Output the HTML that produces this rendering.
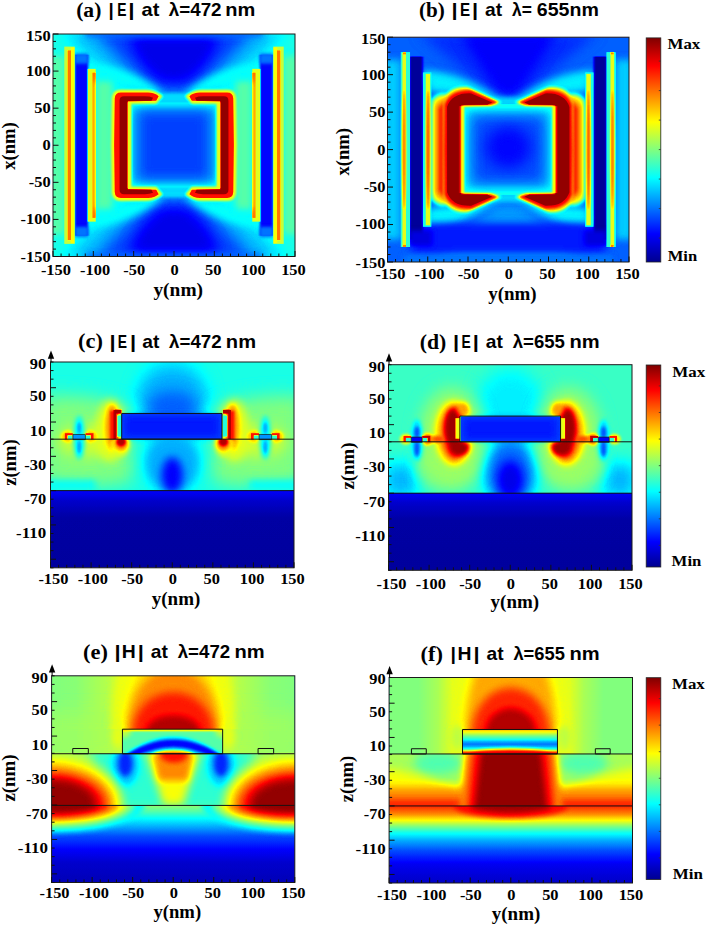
<!DOCTYPE html><html><head><meta charset="utf-8"><style>html,body{margin:0;padding:0;background:#fff;width:707px;height:926px;overflow:hidden}svg{display:block}</style></head><body><svg width="707" height="926" viewBox="0 0 707 926"><defs><filter id="jet" x="0" y="0" width="1" height="1" color-interpolation-filters="sRGB"><feComponentTransfer><feFuncR type="table" tableValues="0 0 0 0 0.5 1 1 1 0.5"/><feFuncG type="table" tableValues="0 0 0.5 1 1 1 0.5 0 0"/><feFuncB type="table" tableValues="0.5625 1 1 1 0.5 0 0 0 0"/><feFuncA type="identity"/></feComponentTransfer></filter><filter id="b0_3" x="-100%" y="-100%" width="300%" height="300%" color-interpolation-filters="sRGB"><feGaussianBlur stdDeviation="0.3"/></filter><filter id="b0_4" x="-100%" y="-100%" width="300%" height="300%" color-interpolation-filters="sRGB"><feGaussianBlur stdDeviation="0.4"/></filter><filter id="b0_5" x="-100%" y="-100%" width="300%" height="300%" color-interpolation-filters="sRGB"><feGaussianBlur stdDeviation="0.5"/></filter><filter id="b0_6" x="-100%" y="-100%" width="300%" height="300%" color-interpolation-filters="sRGB"><feGaussianBlur stdDeviation="0.6"/></filter><filter id="b0_8" x="-100%" y="-100%" width="300%" height="300%" color-interpolation-filters="sRGB"><feGaussianBlur stdDeviation="0.8"/></filter><filter id="b1" x="-100%" y="-100%" width="300%" height="300%" color-interpolation-filters="sRGB"><feGaussianBlur stdDeviation="1"/></filter><filter id="b1_2" x="-100%" y="-100%" width="300%" height="300%" color-interpolation-filters="sRGB"><feGaussianBlur stdDeviation="1.2"/></filter><filter id="b1_5" x="-100%" y="-100%" width="300%" height="300%" color-interpolation-filters="sRGB"><feGaussianBlur stdDeviation="1.5"/></filter><filter id="b2" x="-100%" y="-100%" width="300%" height="300%" color-interpolation-filters="sRGB"><feGaussianBlur stdDeviation="2"/></filter><filter id="b2_5" x="-100%" y="-100%" width="300%" height="300%" color-interpolation-filters="sRGB"><feGaussianBlur stdDeviation="2.5"/></filter><filter id="b3" x="-100%" y="-100%" width="300%" height="300%" color-interpolation-filters="sRGB"><feGaussianBlur stdDeviation="3"/></filter><filter id="b4" x="-100%" y="-100%" width="300%" height="300%" color-interpolation-filters="sRGB"><feGaussianBlur stdDeviation="4"/></filter><filter id="b5" x="-100%" y="-100%" width="300%" height="300%" color-interpolation-filters="sRGB"><feGaussianBlur stdDeviation="5"/></filter><filter id="b6" x="-100%" y="-100%" width="300%" height="300%" color-interpolation-filters="sRGB"><feGaussianBlur stdDeviation="6"/></filter><filter id="b7" x="-100%" y="-100%" width="300%" height="300%" color-interpolation-filters="sRGB"><feGaussianBlur stdDeviation="7"/></filter><filter id="b8" x="-100%" y="-100%" width="300%" height="300%" color-interpolation-filters="sRGB"><feGaussianBlur stdDeviation="8"/></filter><filter id="b9" x="-100%" y="-100%" width="300%" height="300%" color-interpolation-filters="sRGB"><feGaussianBlur stdDeviation="9"/></filter><filter id="b10" x="-100%" y="-100%" width="300%" height="300%" color-interpolation-filters="sRGB"><feGaussianBlur stdDeviation="10"/></filter><linearGradient id="cbar" x1="0" y1="1" x2="0" y2="0"><stop offset="0" stop-color="rgb(0,0,143)"/><stop offset="0.125" stop-color="rgb(0,0,255)"/><stop offset="0.375" stop-color="rgb(0,255,255)"/><stop offset="0.625" stop-color="rgb(255,255,0)"/><stop offset="0.875" stop-color="rgb(255,0,0)"/><stop offset="1" stop-color="rgb(128,0,0)"/></linearGradient><clipPath id="clipa"><rect x="53" y="34" width="242" height="222.5"/></clipPath><clipPath id="clipb"><rect x="387.5" y="37.2" width="241.5" height="224.8"/></clipPath><clipPath id="clipc"><rect x="50.5" y="362" width="243.5" height="205.8"/></clipPath><clipPath id="clipd"><rect x="388.5" y="364.7" width="243.5" height="205.6"/></clipPath><clipPath id="clipe"><rect x="51.6" y="675.8" width="243.2" height="206.7"/></clipPath><clipPath id="clipf"><rect x="389.1" y="677.5" width="243.4" height="205.5"/></clipPath></defs><rect width="707" height="926" fill="#fff"/><g clip-path="url(#clipa)"><g filter="url(#jet)"><rect x="53" y="34" width="242" height="222.5" fill="black"/><g transform="translate(53,34) scale(0.80667,0.74167)"><rect x="0" y="0" width="300" height="300" fill="rgb(102,102,102)"/><rect x="-5" y="30" width="19" height="240" fill="rgb(117,117,117)" filter="url(#b4)"/><g transform="translate(300,0) scale(-1,1)"><rect x="-5" y="30" width="19" height="240" fill="rgb(117,117,117)" filter="url(#b4)"/></g><path d="M10,-5 L290,-5 Q235,55 182,86 L118,86 Q65,55 10,-5 Z" fill="rgb(79,79,79)" filter="url(#b10)"/><path d="M50,-5 L250,-5 Q205,50 170,80 L130,80 Q95,50 50,-5 Z" fill="rgb(48,48,48)" filter="url(#b9)"/><path d="M95,4 L205,4 Q195,42 164,64 L136,64 Q105,42 95,4 Z" fill="rgb(26,26,26)" filter="url(#b8)"/><rect x="40" y="-6" width="220" height="10" fill="rgb(56,56,56)" filter="url(#b4)"/><path d="M50,40 Q95,45 135,78 L128,84 Q95,70 55,66 Z" fill="rgb(97,97,97)" filter="url(#b5)"/><g transform="translate(300,0) scale(-1,1)"><path d="M50,40 Q95,45 135,78 L128,84 Q95,70 55,66 Z" fill="rgb(97,97,97)" filter="url(#b5)"/></g><g transform="translate(0,300) scale(1,-1)"><path d="M10,-5 L290,-5 Q235,55 182,86 L118,86 Q65,55 10,-5 Z" fill="rgb(79,79,79)" filter="url(#b10)"/><path d="M50,-5 L250,-5 Q205,50 170,80 L130,80 Q95,50 50,-5 Z" fill="rgb(48,48,48)" filter="url(#b9)"/><path d="M95,4 L205,4 Q195,42 164,64 L136,64 Q105,42 95,4 Z" fill="rgb(26,26,26)" filter="url(#b8)"/><rect x="40" y="-6" width="220" height="10" fill="rgb(56,56,56)" filter="url(#b4)"/><path d="M50,40 Q95,45 135,78 L128,84 Q95,70 55,66 Z" fill="rgb(97,97,97)" filter="url(#b5)"/><g transform="translate(300,0) scale(-1,1)"><path d="M50,40 Q95,45 135,78 L128,84 Q95,70 55,66 Z" fill="rgb(97,97,97)" filter="url(#b5)"/></g></g><rect x="27" y="28" width="16.5" height="244" fill="rgb(33,33,33)" filter="url(#b1)"/><g transform="translate(300,0) scale(-1,1)"><rect x="27" y="28" width="16.5" height="244" fill="rgb(33,33,33)" filter="url(#b1)"/></g><rect x="27" y="26" width="16.5" height="14" fill="rgb(61,61,61)" filter="url(#b2)"/><g transform="translate(300,0) scale(-1,1)"><rect x="27" y="26" width="16.5" height="14" fill="rgb(61,61,61)" filter="url(#b2)"/></g><rect x="27" y="260" width="16.5" height="14" fill="rgb(61,61,61)" filter="url(#b2)"/><g transform="translate(300,0) scale(-1,1)"><rect x="27" y="260" width="16.5" height="14" fill="rgb(61,61,61)" filter="url(#b2)"/></g><rect x="14" y="17" width="13" height="266" fill="rgb(145,145,145)" filter="url(#b0_6)"/><rect x="22" y="18" width="4.5" height="264" fill="rgb(158,158,158)" filter="url(#b0_4)"/><rect x="18" y="22" width="4.3" height="256" fill="rgb(194,194,194)" filter="url(#b0_3)"/><g transform="translate(300,0) scale(-1,1)"><rect x="14" y="17" width="13" height="266" fill="rgb(145,145,145)" filter="url(#b0_6)"/><rect x="22" y="18" width="4.5" height="264" fill="rgb(158,158,158)" filter="url(#b0_4)"/><rect x="18" y="22" width="4.3" height="256" fill="rgb(194,194,194)" filter="url(#b0_3)"/></g><rect x="43" y="47" width="10" height="206" fill="rgb(153,153,153)" filter="url(#b0_5)"/><rect x="48.8" y="52" width="4.2" height="196" fill="rgb(194,194,194)" filter="url(#b0_3)"/><g transform="translate(300,0) scale(-1,1)"><rect x="43" y="47" width="10" height="206" fill="rgb(153,153,153)" filter="url(#b0_5)"/><rect x="48.8" y="52" width="4.2" height="196" fill="rgb(194,194,194)" filter="url(#b0_3)"/></g><rect x="54" y="64" width="19" height="172" fill="rgb(117,117,117)" filter="url(#b4)"/><g transform="translate(300,0) scale(-1,1)"><rect x="54" y="64" width="19" height="172" fill="rgb(117,117,117)" filter="url(#b4)"/></g><rect x="92" y="92" width="116" height="116" fill="rgb(102,102,102)" filter="url(#b1)"/><rect x="99" y="99" width="102" height="102" fill="rgb(76,76,76)" filter="url(#b4)"/><rect x="106" y="104" width="88" height="92" fill="rgb(48,48,48)" filter="url(#b8)"/><rect x="128" y="80" width="44" height="12" fill="rgb(87,87,87)" filter="url(#b2)"/><g transform="translate(0,300) scale(1,-1)"><rect x="128" y="80" width="44" height="12" fill="rgb(87,87,87)" filter="url(#b2)"/></g><path d="M136,84 Q128,75 116,75 L84,75 Q74,75 73,86 Q71,150 73,214 Q74,225 84,225 L116,225 Q128,225 136,216 L128,206 L97,206 L97,94 L128,94 Z" fill="rgb(158,158,158)" filter="url(#b1_5)"/><path d="M131,84 Q126,79 118,79 L84,79 Q77,79 76.5,87 Q75,150 76.5,213 Q77,221 84,221 L118,221 Q126,221 131,216 L128,210 L93,209 L93,91 L128,90 Z" fill="rgb(219,219,219)" filter="url(#b0_5)"/><path d="M124,86 Q120,84 114,84 L88,84 Q82.5,84 82.5,90 L82.5,210 Q82.5,216 88,216 L114,216 Q120,216 124,214 L122,210 L92.5,209.5 L92.5,90.5 L122,90 Z" fill="rgb(250,250,250)" filter="url(#b0_4)"/><rect x="92.5" y="92" width="3.5" height="116" fill="rgb(153,153,153)" filter="url(#b0_6)"/><g transform="translate(300,0) scale(-1,1)"><path d="M136,84 Q128,75 116,75 L84,75 Q74,75 73,86 Q71,150 73,214 Q74,225 84,225 L116,225 Q128,225 136,216 L128,206 L97,206 L97,94 L128,94 Z" fill="rgb(158,158,158)" filter="url(#b1_5)"/><path d="M131,84 Q126,79 118,79 L84,79 Q77,79 76.5,87 Q75,150 76.5,213 Q77,221 84,221 L118,221 Q126,221 131,216 L128,210 L93,209 L93,91 L128,90 Z" fill="rgb(219,219,219)" filter="url(#b0_5)"/><path d="M124,86 Q120,84 114,84 L88,84 Q82.5,84 82.5,90 L82.5,210 Q82.5,216 88,216 L114,216 Q120,216 124,214 L122,210 L92.5,209.5 L92.5,90.5 L122,90 Z" fill="rgb(250,250,250)" filter="url(#b0_4)"/><rect x="92.5" y="92" width="3.5" height="116" fill="rgb(153,153,153)" filter="url(#b0_6)"/></g></g></g></g><rect x="53" y="34" width="242" height="222.5" fill="none" stroke="#1a1a1a" stroke-width="1"/><line x1="53" y1="256.5" x2="53" y2="251" stroke="#111" stroke-width="1"/><line x1="61.07" y1="256.5" x2="61.07" y2="253.5" stroke="#111" stroke-width="1"/><line x1="69.13" y1="256.5" x2="69.13" y2="253.5" stroke="#111" stroke-width="1"/><line x1="77.2" y1="256.5" x2="77.2" y2="253.5" stroke="#111" stroke-width="1"/><line x1="85.27" y1="256.5" x2="85.27" y2="253.5" stroke="#111" stroke-width="1"/><line x1="93.33" y1="256.5" x2="93.33" y2="251" stroke="#111" stroke-width="1"/><line x1="101.4" y1="256.5" x2="101.4" y2="253.5" stroke="#111" stroke-width="1"/><line x1="109.47" y1="256.5" x2="109.47" y2="253.5" stroke="#111" stroke-width="1"/><line x1="117.53" y1="256.5" x2="117.53" y2="253.5" stroke="#111" stroke-width="1"/><line x1="125.6" y1="256.5" x2="125.6" y2="253.5" stroke="#111" stroke-width="1"/><line x1="133.67" y1="256.5" x2="133.67" y2="251" stroke="#111" stroke-width="1"/><line x1="141.73" y1="256.5" x2="141.73" y2="253.5" stroke="#111" stroke-width="1"/><line x1="149.8" y1="256.5" x2="149.8" y2="253.5" stroke="#111" stroke-width="1"/><line x1="157.87" y1="256.5" x2="157.87" y2="253.5" stroke="#111" stroke-width="1"/><line x1="165.93" y1="256.5" x2="165.93" y2="253.5" stroke="#111" stroke-width="1"/><line x1="174" y1="256.5" x2="174" y2="251" stroke="#111" stroke-width="1"/><line x1="182.07" y1="256.5" x2="182.07" y2="253.5" stroke="#111" stroke-width="1"/><line x1="190.13" y1="256.5" x2="190.13" y2="253.5" stroke="#111" stroke-width="1"/><line x1="198.2" y1="256.5" x2="198.2" y2="253.5" stroke="#111" stroke-width="1"/><line x1="206.27" y1="256.5" x2="206.27" y2="253.5" stroke="#111" stroke-width="1"/><line x1="214.33" y1="256.5" x2="214.33" y2="251" stroke="#111" stroke-width="1"/><line x1="222.4" y1="256.5" x2="222.4" y2="253.5" stroke="#111" stroke-width="1"/><line x1="230.47" y1="256.5" x2="230.47" y2="253.5" stroke="#111" stroke-width="1"/><line x1="238.53" y1="256.5" x2="238.53" y2="253.5" stroke="#111" stroke-width="1"/><line x1="246.6" y1="256.5" x2="246.6" y2="253.5" stroke="#111" stroke-width="1"/><line x1="254.67" y1="256.5" x2="254.67" y2="251" stroke="#111" stroke-width="1"/><line x1="262.73" y1="256.5" x2="262.73" y2="253.5" stroke="#111" stroke-width="1"/><line x1="270.8" y1="256.5" x2="270.8" y2="253.5" stroke="#111" stroke-width="1"/><line x1="278.87" y1="256.5" x2="278.87" y2="253.5" stroke="#111" stroke-width="1"/><line x1="286.93" y1="256.5" x2="286.93" y2="253.5" stroke="#111" stroke-width="1"/><line x1="295" y1="256.5" x2="295" y2="251" stroke="#111" stroke-width="1"/><line x1="53" y1="256.5" x2="58.5" y2="256.5" stroke="#111" stroke-width="1"/><line x1="53" y1="249.08" x2="56" y2="249.08" stroke="#111" stroke-width="1"/><line x1="53" y1="241.67" x2="56" y2="241.67" stroke="#111" stroke-width="1"/><line x1="53" y1="234.25" x2="56" y2="234.25" stroke="#111" stroke-width="1"/><line x1="53" y1="226.83" x2="56" y2="226.83" stroke="#111" stroke-width="1"/><line x1="53" y1="219.42" x2="58.5" y2="219.42" stroke="#111" stroke-width="1"/><line x1="53" y1="212" x2="56" y2="212" stroke="#111" stroke-width="1"/><line x1="53" y1="204.58" x2="56" y2="204.58" stroke="#111" stroke-width="1"/><line x1="53" y1="197.17" x2="56" y2="197.17" stroke="#111" stroke-width="1"/><line x1="53" y1="189.75" x2="56" y2="189.75" stroke="#111" stroke-width="1"/><line x1="53" y1="182.33" x2="58.5" y2="182.33" stroke="#111" stroke-width="1"/><line x1="53" y1="174.92" x2="56" y2="174.92" stroke="#111" stroke-width="1"/><line x1="53" y1="167.5" x2="56" y2="167.5" stroke="#111" stroke-width="1"/><line x1="53" y1="160.08" x2="56" y2="160.08" stroke="#111" stroke-width="1"/><line x1="53" y1="152.67" x2="56" y2="152.67" stroke="#111" stroke-width="1"/><line x1="53" y1="145.25" x2="58.5" y2="145.25" stroke="#111" stroke-width="1"/><line x1="53" y1="137.83" x2="56" y2="137.83" stroke="#111" stroke-width="1"/><line x1="53" y1="130.42" x2="56" y2="130.42" stroke="#111" stroke-width="1"/><line x1="53" y1="123" x2="56" y2="123" stroke="#111" stroke-width="1"/><line x1="53" y1="115.58" x2="56" y2="115.58" stroke="#111" stroke-width="1"/><line x1="53" y1="108.17" x2="58.5" y2="108.17" stroke="#111" stroke-width="1"/><line x1="53" y1="100.75" x2="56" y2="100.75" stroke="#111" stroke-width="1"/><line x1="53" y1="93.33" x2="56" y2="93.33" stroke="#111" stroke-width="1"/><line x1="53" y1="85.92" x2="56" y2="85.92" stroke="#111" stroke-width="1"/><line x1="53" y1="78.5" x2="56" y2="78.5" stroke="#111" stroke-width="1"/><line x1="53" y1="71.08" x2="58.5" y2="71.08" stroke="#111" stroke-width="1"/><line x1="53" y1="63.67" x2="56" y2="63.67" stroke="#111" stroke-width="1"/><line x1="53" y1="56.25" x2="56" y2="56.25" stroke="#111" stroke-width="1"/><line x1="53" y1="48.83" x2="56" y2="48.83" stroke="#111" stroke-width="1"/><line x1="53" y1="41.42" x2="56" y2="41.42" stroke="#111" stroke-width="1"/><line x1="53" y1="34" x2="58.5" y2="34" stroke="#111" stroke-width="1"/><g clip-path="url(#clipb)"><g filter="url(#jet)"><rect x="387.5" y="37.2" width="241.5" height="224.8" fill="black"/><g transform="translate(387.5,37.2) scale(0.80500,0.74933)"><rect x="0" y="0" width="300" height="300" fill="rgb(56,56,56)"/><rect x="-5" y="30" width="22" height="240" fill="rgb(84,84,84)" filter="url(#b5)"/><g transform="translate(300,0) scale(-1,1)"><rect x="-5" y="30" width="22" height="240" fill="rgb(84,84,84)" filter="url(#b5)"/></g><path d="M40,-5 L260,-5 L175,70 L125,70 Z" fill="rgb(43,43,43)" filter="url(#b8)"/><path d="M90,-5 L210,-5 L160,78 L140,78 Z" fill="rgb(31,31,31)" filter="url(#b7)"/><path d="M42,44 Q95,46 140,84 L132,90 Q95,74 52,72 Z" fill="rgb(92,92,92)" filter="url(#b5)"/><g transform="translate(300,0) scale(-1,1)"><path d="M42,44 Q95,46 140,84 L132,90 Q95,74 52,72 Z" fill="rgb(92,92,92)" filter="url(#b5)"/></g><path d="M42,256 Q95,254 140,216 L132,210 Q95,226 52,228 Z" fill="rgb(94,94,94)" filter="url(#b5)"/><g transform="translate(300,0) scale(-1,1)"><path d="M42,256 Q95,254 140,216 L132,210 Q95,226 52,228 Z" fill="rgb(94,94,94)" filter="url(#b5)"/></g><path d="M60,300 L240,300 L165,222 L135,222 Z" fill="rgb(71,71,71)" filter="url(#b8)"/><rect x="30" y="248" width="240" height="40" fill="rgb(38,38,38)" filter="url(#b5)"/><rect x="20" y="290" width="260" height="15" fill="rgb(61,61,61)" filter="url(#b3)"/><rect x="28" y="26" width="15.5" height="244" fill="rgb(3,3,3)" filter="url(#b1)"/><g transform="translate(300,0) scale(-1,1)"><rect x="28" y="26" width="15.5" height="244" fill="rgb(3,3,3)" filter="url(#b1)"/></g><rect x="27" y="258" width="28" height="20" fill="rgb(23,23,23)" filter="url(#b3)"/><g transform="translate(300,0) scale(-1,1)"><rect x="27" y="258" width="28" height="20" fill="rgb(23,23,23)" filter="url(#b3)"/></g><rect x="16.5" y="20" width="11.5" height="260" fill="rgb(107,107,107)" filter="url(#b0_8)"/><rect x="18.5" y="21" width="4.5" height="258" fill="rgb(153,153,153)" filter="url(#b0_5)"/><ellipse cx="20.5" cy="150" rx="2.2" ry="80" fill="rgb(194,194,194)" filter="url(#b1)"/><rect x="19" y="20" width="4" height="3" fill="rgb(191,191,191)"/><rect x="19" y="277" width="4" height="3" fill="rgb(191,191,191)"/><g transform="translate(300,0) scale(-1,1)"><rect x="16.5" y="20" width="11.5" height="260" fill="rgb(107,107,107)" filter="url(#b0_8)"/><rect x="18.5" y="21" width="4.5" height="258" fill="rgb(153,153,153)" filter="url(#b0_5)"/><ellipse cx="20.5" cy="150" rx="2.2" ry="80" fill="rgb(194,194,194)" filter="url(#b1)"/><rect x="19" y="20" width="4" height="3" fill="rgb(191,191,191)"/><rect x="19" y="277" width="4" height="3" fill="rgb(191,191,191)"/></g><rect x="44" y="47" width="10.5" height="206" fill="rgb(102,102,102)" filter="url(#b0_8)"/><rect x="47.5" y="49" width="5.5" height="202" fill="rgb(153,153,153)" filter="url(#b0_5)"/><ellipse cx="50.5" cy="150" rx="2.4" ry="80" fill="rgb(204,204,204)" filter="url(#b1)"/><g transform="translate(300,0) scale(-1,1)"><rect x="44" y="47" width="10.5" height="206" fill="rgb(102,102,102)" filter="url(#b0_8)"/><rect x="47.5" y="49" width="5.5" height="202" fill="rgb(153,153,153)" filter="url(#b0_5)"/><ellipse cx="50.5" cy="150" rx="2.4" ry="80" fill="rgb(204,204,204)" filter="url(#b1)"/></g><path d="M55,84 Q66,70 80,80 L80,220 Q66,230 55,216 Z" fill="rgb(158,158,158)" filter="url(#b2_5)"/><g transform="translate(300,0) scale(-1,1)"><path d="M55,84 Q66,70 80,80 L80,220 Q66,230 55,216 Z" fill="rgb(158,158,158)" filter="url(#b2_5)"/></g><path d="M59,92 Q68,78 80,84 L80,216 Q68,222 59,208 Z" fill="rgb(191,191,191)" filter="url(#b2_5)"/><g transform="translate(300,0) scale(-1,1)"><path d="M59,92 Q68,78 80,84 L80,216 Q68,222 59,208 Z" fill="rgb(191,191,191)" filter="url(#b2_5)"/></g><path d="M64,96 Q70,82 80,86 L80,214 Q70,218 64,204 Z" fill="rgb(219,219,219)" filter="url(#b2)"/><g transform="translate(300,0) scale(-1,1)"><path d="M64,96 Q70,82 80,86 L80,214 Q70,218 64,204 Z" fill="rgb(219,219,219)" filter="url(#b2)"/></g><rect x="89" y="89" width="122" height="122" fill="rgb(133,133,133)" filter="url(#b1)"/><rect x="92" y="92" width="116" height="116" fill="rgb(102,102,102)" filter="url(#b1_5)"/><rect x="99" y="99" width="102" height="102" fill="rgb(76,76,76)" filter="url(#b5)"/><rect x="106" y="106" width="88" height="88" fill="rgb(51,51,51)" filter="url(#b8)"/><ellipse cx="150" cy="147" rx="28" ry="28" fill="rgb(33,33,33)" filter="url(#b9)"/><rect x="128" y="80" width="44" height="12" fill="rgb(87,87,87)" filter="url(#b3)"/><g transform="translate(0,300) scale(1,-1)"><rect x="128" y="80" width="44" height="12" fill="rgb(87,87,87)" filter="url(#b3)"/></g><path d="M141,87 L100,67 Q76,65 69,86 L69,214 Q76,235 100,233 L141,213 L128,209 L93,209 L93,91 L128,91 Z" fill="rgb(178,178,178)" filter="url(#b2)"/><path d="M137,87 L104,71 Q78,70 71,90 Q70,150 71,210 Q78,230 104,229 L137,213 L128,210 L93,209 L93,91 L128,90 Z" fill="rgb(224,224,224)" filter="url(#b1_2)"/><path d="M130,87 L104,75 Q80,74 74,93 L74,207 Q80,226 104,225 L130,213 L124,210 L91.5,209.5 L91.5,90.5 L124,90 Z" fill="rgb(250,250,250)" filter="url(#b0_6)"/><rect x="91" y="92" width="4" height="116" fill="rgb(153,153,153)" filter="url(#b1)"/><g transform="translate(300,0) scale(-1,1)"><path d="M141,87 L100,67 Q76,65 69,86 L69,214 Q76,235 100,233 L141,213 L128,209 L93,209 L93,91 L128,91 Z" fill="rgb(178,178,178)" filter="url(#b2)"/><path d="M137,87 L104,71 Q78,70 71,90 Q70,150 71,210 Q78,230 104,229 L137,213 L128,210 L93,209 L93,91 L128,90 Z" fill="rgb(224,224,224)" filter="url(#b1_2)"/><path d="M130,87 L104,75 Q80,74 74,93 L74,207 Q80,226 104,225 L130,213 L124,210 L91.5,209.5 L91.5,90.5 L124,90 Z" fill="rgb(250,250,250)" filter="url(#b0_6)"/><rect x="91" y="92" width="4" height="116" fill="rgb(153,153,153)" filter="url(#b1)"/></g></g></g></g><rect x="387.5" y="37.2" width="241.5" height="224.8" fill="none" stroke="#1a1a1a" stroke-width="1"/><line x1="387.5" y1="262" x2="387.5" y2="256.5" stroke="#111" stroke-width="1"/><line x1="395.55" y1="262" x2="395.55" y2="259" stroke="#111" stroke-width="1"/><line x1="403.6" y1="262" x2="403.6" y2="259" stroke="#111" stroke-width="1"/><line x1="411.65" y1="262" x2="411.65" y2="259" stroke="#111" stroke-width="1"/><line x1="419.7" y1="262" x2="419.7" y2="259" stroke="#111" stroke-width="1"/><line x1="427.75" y1="262" x2="427.75" y2="256.5" stroke="#111" stroke-width="1"/><line x1="435.8" y1="262" x2="435.8" y2="259" stroke="#111" stroke-width="1"/><line x1="443.85" y1="262" x2="443.85" y2="259" stroke="#111" stroke-width="1"/><line x1="451.9" y1="262" x2="451.9" y2="259" stroke="#111" stroke-width="1"/><line x1="459.95" y1="262" x2="459.95" y2="259" stroke="#111" stroke-width="1"/><line x1="468" y1="262" x2="468" y2="256.5" stroke="#111" stroke-width="1"/><line x1="476.05" y1="262" x2="476.05" y2="259" stroke="#111" stroke-width="1"/><line x1="484.1" y1="262" x2="484.1" y2="259" stroke="#111" stroke-width="1"/><line x1="492.15" y1="262" x2="492.15" y2="259" stroke="#111" stroke-width="1"/><line x1="500.2" y1="262" x2="500.2" y2="259" stroke="#111" stroke-width="1"/><line x1="508.25" y1="262" x2="508.25" y2="256.5" stroke="#111" stroke-width="1"/><line x1="516.3" y1="262" x2="516.3" y2="259" stroke="#111" stroke-width="1"/><line x1="524.35" y1="262" x2="524.35" y2="259" stroke="#111" stroke-width="1"/><line x1="532.4" y1="262" x2="532.4" y2="259" stroke="#111" stroke-width="1"/><line x1="540.45" y1="262" x2="540.45" y2="259" stroke="#111" stroke-width="1"/><line x1="548.5" y1="262" x2="548.5" y2="256.5" stroke="#111" stroke-width="1"/><line x1="556.55" y1="262" x2="556.55" y2="259" stroke="#111" stroke-width="1"/><line x1="564.6" y1="262" x2="564.6" y2="259" stroke="#111" stroke-width="1"/><line x1="572.65" y1="262" x2="572.65" y2="259" stroke="#111" stroke-width="1"/><line x1="580.7" y1="262" x2="580.7" y2="259" stroke="#111" stroke-width="1"/><line x1="588.75" y1="262" x2="588.75" y2="256.5" stroke="#111" stroke-width="1"/><line x1="596.8" y1="262" x2="596.8" y2="259" stroke="#111" stroke-width="1"/><line x1="604.85" y1="262" x2="604.85" y2="259" stroke="#111" stroke-width="1"/><line x1="612.9" y1="262" x2="612.9" y2="259" stroke="#111" stroke-width="1"/><line x1="620.95" y1="262" x2="620.95" y2="259" stroke="#111" stroke-width="1"/><line x1="629" y1="262" x2="629" y2="256.5" stroke="#111" stroke-width="1"/><line x1="387.5" y1="262" x2="393" y2="262" stroke="#111" stroke-width="1"/><line x1="387.5" y1="254.51" x2="390.5" y2="254.51" stroke="#111" stroke-width="1"/><line x1="387.5" y1="247.01" x2="390.5" y2="247.01" stroke="#111" stroke-width="1"/><line x1="387.5" y1="239.52" x2="390.5" y2="239.52" stroke="#111" stroke-width="1"/><line x1="387.5" y1="232.03" x2="390.5" y2="232.03" stroke="#111" stroke-width="1"/><line x1="387.5" y1="224.53" x2="393" y2="224.53" stroke="#111" stroke-width="1"/><line x1="387.5" y1="217.04" x2="390.5" y2="217.04" stroke="#111" stroke-width="1"/><line x1="387.5" y1="209.55" x2="390.5" y2="209.55" stroke="#111" stroke-width="1"/><line x1="387.5" y1="202.05" x2="390.5" y2="202.05" stroke="#111" stroke-width="1"/><line x1="387.5" y1="194.56" x2="390.5" y2="194.56" stroke="#111" stroke-width="1"/><line x1="387.5" y1="187.07" x2="393" y2="187.07" stroke="#111" stroke-width="1"/><line x1="387.5" y1="179.57" x2="390.5" y2="179.57" stroke="#111" stroke-width="1"/><line x1="387.5" y1="172.08" x2="390.5" y2="172.08" stroke="#111" stroke-width="1"/><line x1="387.5" y1="164.59" x2="390.5" y2="164.59" stroke="#111" stroke-width="1"/><line x1="387.5" y1="157.09" x2="390.5" y2="157.09" stroke="#111" stroke-width="1"/><line x1="387.5" y1="149.6" x2="393" y2="149.6" stroke="#111" stroke-width="1"/><line x1="387.5" y1="142.11" x2="390.5" y2="142.11" stroke="#111" stroke-width="1"/><line x1="387.5" y1="134.61" x2="390.5" y2="134.61" stroke="#111" stroke-width="1"/><line x1="387.5" y1="127.12" x2="390.5" y2="127.12" stroke="#111" stroke-width="1"/><line x1="387.5" y1="119.63" x2="390.5" y2="119.63" stroke="#111" stroke-width="1"/><line x1="387.5" y1="112.13" x2="393" y2="112.13" stroke="#111" stroke-width="1"/><line x1="387.5" y1="104.64" x2="390.5" y2="104.64" stroke="#111" stroke-width="1"/><line x1="387.5" y1="97.15" x2="390.5" y2="97.15" stroke="#111" stroke-width="1"/><line x1="387.5" y1="89.65" x2="390.5" y2="89.65" stroke="#111" stroke-width="1"/><line x1="387.5" y1="82.16" x2="390.5" y2="82.16" stroke="#111" stroke-width="1"/><line x1="387.5" y1="74.67" x2="393" y2="74.67" stroke="#111" stroke-width="1"/><line x1="387.5" y1="67.17" x2="390.5" y2="67.17" stroke="#111" stroke-width="1"/><line x1="387.5" y1="59.68" x2="390.5" y2="59.68" stroke="#111" stroke-width="1"/><line x1="387.5" y1="52.19" x2="390.5" y2="52.19" stroke="#111" stroke-width="1"/><line x1="387.5" y1="44.69" x2="390.5" y2="44.69" stroke="#111" stroke-width="1"/><line x1="387.5" y1="37.2" x2="393" y2="37.2" stroke="#111" stroke-width="1"/><g clip-path="url(#clipc)"><g filter="url(#jet)"><rect x="50.5" y="362" width="243.5" height="205.8" fill="black"/><g transform="translate(50.5,362) scale(0.81167,0.85750)"><g><rect x="0" y="0" width="300" height="150" fill="rgb(102,102,102)"/><ellipse cx="150" cy="42" rx="44" ry="40" fill="rgb(76,76,76)" filter="url(#b10)"/><ellipse cx="150" cy="52" rx="30" ry="18" fill="rgb(56,56,56)" filter="url(#b8)"/><path d="M-10,40 Q60,36 100,56 L100,140 Q50,150 -10,140 Z" fill="rgb(128,128,128)" filter="url(#b10)"/><g transform="translate(300,0) scale(-1,1)"><path d="M-10,40 Q60,36 100,56 L100,140 Q50,150 -10,140 Z" fill="rgb(128,128,128)" filter="url(#b10)"/></g><ellipse cx="50" cy="92" rx="42" ry="18" fill="rgb(148,148,148)" filter="url(#b8)"/><g transform="translate(300,0) scale(-1,1)"><ellipse cx="50" cy="92" rx="42" ry="18" fill="rgb(148,148,148)" filter="url(#b8)"/></g><ellipse cx="74" cy="80" rx="18" ry="36" fill="rgb(153,153,153)" filter="url(#b5)"/><g transform="translate(300,0) scale(-1,1)"><ellipse cx="74" cy="80" rx="18" ry="36" fill="rgb(153,153,153)" filter="url(#b5)"/></g><ellipse cx="76" cy="76" rx="8" ry="27" fill="rgb(189,189,189)" filter="url(#b3)"/><g transform="translate(300,0) scale(-1,1)"><ellipse cx="76" cy="76" rx="8" ry="27" fill="rgb(189,189,189)" filter="url(#b3)"/></g><rect x="73.5" y="57" width="9" height="34" fill="rgb(219,219,219)" filter="url(#b1)"/><g transform="translate(300,0) scale(-1,1)"><rect x="73.5" y="57" width="9" height="34" fill="rgb(219,219,219)" filter="url(#b1)"/></g><rect x="77.6" y="56" width="3.2" height="34.5" fill="rgb(242,242,242)" filter="url(#b0_5)"/><g transform="translate(300,0) scale(-1,1)"><rect x="77.6" y="56" width="3.2" height="34.5" fill="rgb(242,242,242)" filter="url(#b0_5)"/></g><rect x="79.5" y="55.6" width="8" height="4.6" fill="rgb(245,245,245)" filter="url(#b0_5)"/><g transform="translate(300,0) scale(-1,1)"><rect x="79.5" y="55.6" width="8" height="4.6" fill="rgb(245,245,245)" filter="url(#b0_5)"/></g><rect x="82.3" y="62.4" width="5.3" height="24.6" fill="rgb(107,107,107)"/><g transform="translate(300,0) scale(-1,1)"><rect x="82.3" y="62.4" width="5.3" height="24.6" fill="rgb(107,107,107)"/></g><rect x="87.7" y="60" width="123.6" height="30" fill="rgb(48,48,48)"/><rect x="92" y="63" width="115" height="24" fill="rgb(38,38,38)" filter="url(#b4)"/><clipPath id="cc1"><rect x="-10" y="90" width="320" height="61"/></clipPath><g clip-path="url(#cc1)"><ellipse cx="150" cy="118" rx="34" ry="36" fill="rgb(76,76,76)" filter="url(#b6)"/><ellipse cx="150" cy="132" rx="13" ry="21" fill="rgb(31,31,31)" filter="url(#b5)"/><ellipse cx="86" cy="97" rx="11" ry="13" fill="rgb(153,153,153)" filter="url(#b3)"/><g transform="translate(300,0) scale(-1,1)"><ellipse cx="86" cy="97" rx="11" ry="13" fill="rgb(153,153,153)" filter="url(#b3)"/></g><ellipse cx="87" cy="95" rx="8" ry="8" fill="rgb(199,199,199)" filter="url(#b2_5)"/><g transform="translate(300,0) scale(-1,1)"><ellipse cx="87" cy="95" rx="8" ry="8" fill="rgb(199,199,199)" filter="url(#b2_5)"/></g><ellipse cx="87" cy="93" rx="5.5" ry="5" fill="rgb(242,242,242)" filter="url(#b1_5)"/><g transform="translate(300,0) scale(-1,1)"><ellipse cx="87" cy="93" rx="5.5" ry="5" fill="rgb(242,242,242)" filter="url(#b1_5)"/></g></g><ellipse cx="22" cy="87" rx="9" ry="7" fill="rgb(173,173,173)" filter="url(#b2)"/><ellipse cx="48.5" cy="87" rx="9" ry="7" fill="rgb(173,173,173)" filter="url(#b2)"/><ellipse cx="35.3" cy="88" rx="7.5" ry="26" fill="rgb(99,99,99)" filter="url(#b2_5)"/><ellipse cx="35.3" cy="77" rx="2.5" ry="7" fill="rgb(71,71,71)" filter="url(#b2)"/><ellipse cx="35.3" cy="99" rx="2.5" ry="8" fill="rgb(71,71,71)" filter="url(#b2)"/><rect x="17.7" y="83" width="9.9" height="7.3" fill="rgb(219,219,219)" filter="url(#b0_4)"/><rect x="21" y="85.5" width="6.3" height="4.8" fill="rgb(107,107,107)"/><rect x="43" y="83" width="10" height="7.3" fill="rgb(219,219,219)" filter="url(#b0_4)"/><rect x="43.3" y="85.5" width="6.2" height="4.8" fill="rgb(107,107,107)"/><rect x="27.6" y="84.5" width="15.4" height="6" fill="rgb(69,69,69)"/><g transform="translate(300,0) scale(-1,1)"><ellipse cx="22" cy="87" rx="9" ry="7" fill="rgb(173,173,173)" filter="url(#b2)"/><ellipse cx="48.5" cy="87" rx="9" ry="7" fill="rgb(173,173,173)" filter="url(#b2)"/><ellipse cx="35.3" cy="88" rx="7.5" ry="26" fill="rgb(99,99,99)" filter="url(#b2_5)"/><ellipse cx="35.3" cy="77" rx="2.5" ry="7" fill="rgb(71,71,71)" filter="url(#b2)"/><ellipse cx="35.3" cy="99" rx="2.5" ry="8" fill="rgb(71,71,71)" filter="url(#b2)"/><rect x="17.7" y="83" width="9.9" height="7.3" fill="rgb(219,219,219)" filter="url(#b0_4)"/><rect x="21" y="85.5" width="6.3" height="4.8" fill="rgb(107,107,107)"/><rect x="43" y="83" width="10" height="7.3" fill="rgb(219,219,219)" filter="url(#b0_4)"/><rect x="43.3" y="85.5" width="6.2" height="4.8" fill="rgb(107,107,107)"/><rect x="27.6" y="84.5" width="15.4" height="6" fill="rgb(69,69,69)"/></g><rect x="-5" y="138" width="60" height="12" fill="rgb(97,97,97)" filter="url(#b4)"/><g transform="translate(300,0) scale(-1,1)"><rect x="-5" y="138" width="60" height="12" fill="rgb(97,97,97)" filter="url(#b4)"/></g><defs><linearGradient id="vg1" x1="0" y1="0" x2="0" y2="1"><stop offset="0" stop-color="rgb(31,31,31)"/><stop offset="0.12" stop-color="rgb(18,18,18)"/><stop offset="0.35" stop-color="rgb(6,6,6)"/><stop offset="1" stop-color="rgb(4,4,4)"/></linearGradient></defs><rect x="0" y="150" width="300" height="90" fill="url(#vg1)"/></g></g></g></g><g clip-path="url(#clipc)"><g transform="translate(50.5,362) scale(0.81167,0.85750)" fill="none" stroke="#111" stroke-width="1"><line x1="0" y1="90" x2="300" y2="90" vector-effect="non-scaling-stroke" stroke-width="1" stroke="#111"/><line x1="0" y1="150" x2="300" y2="150" vector-effect="non-scaling-stroke" stroke-width="1" stroke="#111"/><rect x="87.7" y="60" width="123.6" height="30" vector-effect="non-scaling-stroke" stroke-width="1" stroke="#111"/><rect x="27.6" y="84.5" width="15.4" height="6" vector-effect="non-scaling-stroke" stroke-width="0.7" stroke="#111"/><rect x="257" y="84.5" width="15.4" height="6" vector-effect="non-scaling-stroke" stroke-width="0.7" stroke="#111"/></g></g><rect x="50.5" y="362" width="243.5" height="205.8" fill="none" stroke="#1a1a1a" stroke-width="1"/><line x1="50.5" y1="567.8" x2="50.5" y2="562.3" stroke="#111" stroke-width="1"/><line x1="58.62" y1="567.8" x2="58.62" y2="564.8" stroke="#111" stroke-width="1"/><line x1="66.73" y1="567.8" x2="66.73" y2="564.8" stroke="#111" stroke-width="1"/><line x1="74.85" y1="567.8" x2="74.85" y2="564.8" stroke="#111" stroke-width="1"/><line x1="82.97" y1="567.8" x2="82.97" y2="564.8" stroke="#111" stroke-width="1"/><line x1="91.08" y1="567.8" x2="91.08" y2="562.3" stroke="#111" stroke-width="1"/><line x1="99.2" y1="567.8" x2="99.2" y2="564.8" stroke="#111" stroke-width="1"/><line x1="107.32" y1="567.8" x2="107.32" y2="564.8" stroke="#111" stroke-width="1"/><line x1="115.43" y1="567.8" x2="115.43" y2="564.8" stroke="#111" stroke-width="1"/><line x1="123.55" y1="567.8" x2="123.55" y2="564.8" stroke="#111" stroke-width="1"/><line x1="131.67" y1="567.8" x2="131.67" y2="562.3" stroke="#111" stroke-width="1"/><line x1="139.78" y1="567.8" x2="139.78" y2="564.8" stroke="#111" stroke-width="1"/><line x1="147.9" y1="567.8" x2="147.9" y2="564.8" stroke="#111" stroke-width="1"/><line x1="156.02" y1="567.8" x2="156.02" y2="564.8" stroke="#111" stroke-width="1"/><line x1="164.13" y1="567.8" x2="164.13" y2="564.8" stroke="#111" stroke-width="1"/><line x1="172.25" y1="567.8" x2="172.25" y2="562.3" stroke="#111" stroke-width="1"/><line x1="180.37" y1="567.8" x2="180.37" y2="564.8" stroke="#111" stroke-width="1"/><line x1="188.48" y1="567.8" x2="188.48" y2="564.8" stroke="#111" stroke-width="1"/><line x1="196.6" y1="567.8" x2="196.6" y2="564.8" stroke="#111" stroke-width="1"/><line x1="204.72" y1="567.8" x2="204.72" y2="564.8" stroke="#111" stroke-width="1"/><line x1="212.83" y1="567.8" x2="212.83" y2="562.3" stroke="#111" stroke-width="1"/><line x1="220.95" y1="567.8" x2="220.95" y2="564.8" stroke="#111" stroke-width="1"/><line x1="229.07" y1="567.8" x2="229.07" y2="564.8" stroke="#111" stroke-width="1"/><line x1="237.18" y1="567.8" x2="237.18" y2="564.8" stroke="#111" stroke-width="1"/><line x1="245.3" y1="567.8" x2="245.3" y2="564.8" stroke="#111" stroke-width="1"/><line x1="253.42" y1="567.8" x2="253.42" y2="562.3" stroke="#111" stroke-width="1"/><line x1="261.53" y1="567.8" x2="261.53" y2="564.8" stroke="#111" stroke-width="1"/><line x1="269.65" y1="567.8" x2="269.65" y2="564.8" stroke="#111" stroke-width="1"/><line x1="277.77" y1="567.8" x2="277.77" y2="564.8" stroke="#111" stroke-width="1"/><line x1="285.88" y1="567.8" x2="285.88" y2="564.8" stroke="#111" stroke-width="1"/><line x1="294" y1="567.8" x2="294" y2="562.3" stroke="#111" stroke-width="1"/><line x1="50.5" y1="362" x2="53.5" y2="362" stroke="#111" stroke-width="1"/><line x1="50.5" y1="370.57" x2="53.5" y2="370.57" stroke="#111" stroke-width="1"/><line x1="50.5" y1="379.15" x2="53.5" y2="379.15" stroke="#111" stroke-width="1"/><line x1="50.5" y1="387.73" x2="56" y2="387.73" stroke="#111" stroke-width="1"/><line x1="50.5" y1="396.3" x2="53.5" y2="396.3" stroke="#111" stroke-width="1"/><line x1="50.5" y1="404.88" x2="53.5" y2="404.88" stroke="#111" stroke-width="1"/><line x1="50.5" y1="413.45" x2="53.5" y2="413.45" stroke="#111" stroke-width="1"/><line x1="50.5" y1="422.02" x2="56" y2="422.02" stroke="#111" stroke-width="1"/><line x1="50.5" y1="430.6" x2="53.5" y2="430.6" stroke="#111" stroke-width="1"/><line x1="50.5" y1="439.17" x2="53.5" y2="439.17" stroke="#111" stroke-width="1"/><line x1="50.5" y1="447.75" x2="53.5" y2="447.75" stroke="#111" stroke-width="1"/><line x1="50.5" y1="456.32" x2="56" y2="456.32" stroke="#111" stroke-width="1"/><line x1="50.5" y1="464.9" x2="53.5" y2="464.9" stroke="#111" stroke-width="1"/><line x1="50.5" y1="473.47" x2="53.5" y2="473.47" stroke="#111" stroke-width="1"/><line x1="50.5" y1="482.05" x2="53.5" y2="482.05" stroke="#111" stroke-width="1"/><line x1="50.5" y1="490.62" x2="56" y2="490.62" stroke="#111" stroke-width="1"/><line x1="50.5" y1="499.2" x2="53.5" y2="499.2" stroke="#111" stroke-width="1"/><line x1="50.5" y1="507.77" x2="53.5" y2="507.77" stroke="#111" stroke-width="1"/><line x1="50.5" y1="516.35" x2="53.5" y2="516.35" stroke="#111" stroke-width="1"/><line x1="50.5" y1="524.92" x2="56" y2="524.92" stroke="#111" stroke-width="1"/><line x1="50.5" y1="533.5" x2="53.5" y2="533.5" stroke="#111" stroke-width="1"/><line x1="50.5" y1="542.07" x2="53.5" y2="542.07" stroke="#111" stroke-width="1"/><line x1="50.5" y1="550.65" x2="53.5" y2="550.65" stroke="#111" stroke-width="1"/><line x1="50.5" y1="559.22" x2="56" y2="559.22" stroke="#111" stroke-width="1"/><line x1="50.5" y1="567.8" x2="53.5" y2="567.8" stroke="#111" stroke-width="1"/><path d="M47.8,358.8 L51,350.5 L54.2,358.8 Z" fill="#000"/><line x1="51" y1="362" x2="51" y2="358" stroke="#000" stroke-width="1"/><g clip-path="url(#clipd)"><g filter="url(#jet)"><rect x="388.5" y="364.7" width="243.5" height="205.6" fill="black"/><g transform="translate(388.5,364.7) scale(0.81167,0.85667)"><g><rect x="0" y="0" width="300" height="150" fill="rgb(110,110,110)"/><ellipse cx="150" cy="45" rx="40" ry="40" fill="rgb(92,92,92)" filter="url(#b10)"/><rect x="-5" y="115" width="40" height="40" fill="rgb(76,76,76)" filter="url(#b10)"/><g transform="translate(300,0) scale(-1,1)"><rect x="-5" y="115" width="40" height="40" fill="rgb(76,76,76)" filter="url(#b10)"/></g><ellipse cx="72" cy="118" rx="38" ry="28" fill="rgb(128,128,128)" filter="url(#b8)"/><g transform="translate(300,0) scale(-1,1)"><ellipse cx="72" cy="118" rx="38" ry="28" fill="rgb(128,128,128)" filter="url(#b8)"/></g><ellipse cx="150" cy="126" rx="32" ry="40" fill="rgb(59,59,59)" filter="url(#b8)"/><ellipse cx="150" cy="134" rx="16" ry="22" fill="rgb(26,26,26)" filter="url(#b6)"/><ellipse cx="78" cy="84" rx="40" ry="56" fill="rgb(135,135,135)" filter="url(#b10)"/><g transform="translate(300,0) scale(-1,1)"><ellipse cx="78" cy="84" rx="40" ry="56" fill="rgb(135,135,135)" filter="url(#b10)"/></g><ellipse cx="81" cy="80" rx="25" ry="39" fill="rgb(158,158,158)" filter="url(#b4)"/><ellipse cx="81" cy="80" rx="19.5" ry="34" fill="rgb(189,189,189)" filter="url(#b4)"/><ellipse cx="82" cy="79" rx="14" ry="30" fill="rgb(219,219,219)" filter="url(#b3)"/><ellipse cx="80" cy="74" rx="10.5" ry="22" fill="rgb(247,247,247)" filter="url(#b2_5)"/><ellipse cx="87" cy="97" rx="12" ry="9" fill="rgb(247,247,247)" filter="url(#b2_5)"/><ellipse cx="60" cy="87" rx="9" ry="4" fill="rgb(204,204,204)" filter="url(#b2)"/><ellipse cx="92" cy="52" rx="7" ry="8" fill="rgb(184,184,184)" filter="url(#b3)"/><rect x="82.4" y="62.4" width="5.4" height="24" fill="rgb(158,158,158)" filter="url(#b0_5)"/><g transform="translate(300,0) scale(-1,1)"><ellipse cx="81" cy="80" rx="25" ry="39" fill="rgb(158,158,158)" filter="url(#b4)"/><ellipse cx="81" cy="80" rx="19.5" ry="34" fill="rgb(189,189,189)" filter="url(#b4)"/><ellipse cx="82" cy="79" rx="14" ry="30" fill="rgb(219,219,219)" filter="url(#b3)"/><ellipse cx="80" cy="74" rx="10.5" ry="22" fill="rgb(247,247,247)" filter="url(#b2_5)"/><ellipse cx="87" cy="97" rx="12" ry="9" fill="rgb(247,247,247)" filter="url(#b2_5)"/><ellipse cx="60" cy="87" rx="9" ry="4" fill="rgb(204,204,204)" filter="url(#b2)"/><ellipse cx="92" cy="52" rx="7" ry="8" fill="rgb(184,184,184)" filter="url(#b3)"/><rect x="82.4" y="62.4" width="5.4" height="24" fill="rgb(158,158,158)" filter="url(#b0_5)"/></g><rect x="88.6" y="60.2" width="122.8" height="29.6" fill="rgb(48,48,48)"/><rect x="93" y="63" width="114" height="24" fill="rgb(38,38,38)" filter="url(#b4)"/><ellipse cx="22" cy="87" rx="8" ry="6" fill="rgb(168,168,168)" filter="url(#b2)"/><ellipse cx="47" cy="87" rx="9" ry="7" fill="rgb(191,191,191)" filter="url(#b2)"/><ellipse cx="35" cy="88" rx="7" ry="24" fill="rgb(84,84,84)" filter="url(#b2_5)"/><ellipse cx="35" cy="79" rx="3" ry="7" fill="rgb(51,51,51)" filter="url(#b2)"/><ellipse cx="35" cy="98" rx="3" ry="9" fill="rgb(51,51,51)" filter="url(#b2)"/><rect x="18.5" y="83" width="9.5" height="7.3" fill="rgb(219,219,219)" filter="url(#b0_4)"/><rect x="21.5" y="85.5" width="6" height="4.8" fill="rgb(107,107,107)"/><rect x="41.5" y="83" width="10" height="7.3" fill="rgb(240,240,240)" filter="url(#b0_4)"/><rect x="42" y="85.5" width="6" height="4.8" fill="rgb(107,107,107)"/><rect x="28" y="84.5" width="13.5" height="6" fill="rgb(31,31,31)"/><g transform="translate(300,0) scale(-1,1)"><ellipse cx="22" cy="87" rx="8" ry="6" fill="rgb(168,168,168)" filter="url(#b2)"/><ellipse cx="47" cy="87" rx="9" ry="7" fill="rgb(191,191,191)" filter="url(#b2)"/><ellipse cx="35" cy="88" rx="7" ry="24" fill="rgb(84,84,84)" filter="url(#b2_5)"/><ellipse cx="35" cy="79" rx="3" ry="7" fill="rgb(51,51,51)" filter="url(#b2)"/><ellipse cx="35" cy="98" rx="3" ry="9" fill="rgb(51,51,51)" filter="url(#b2)"/><rect x="18.5" y="83" width="9.5" height="7.3" fill="rgb(219,219,219)" filter="url(#b0_4)"/><rect x="21.5" y="85.5" width="6" height="4.8" fill="rgb(107,107,107)"/><rect x="41.5" y="83" width="10" height="7.3" fill="rgb(240,240,240)" filter="url(#b0_4)"/><rect x="42" y="85.5" width="6" height="4.8" fill="rgb(107,107,107)"/><rect x="28" y="84.5" width="13.5" height="6" fill="rgb(31,31,31)"/></g><defs><linearGradient id="vg2" x1="0" y1="0" x2="0" y2="1"><stop offset="0" stop-color="rgb(31,31,31)"/><stop offset="0.12" stop-color="rgb(18,18,18)"/><stop offset="0.35" stop-color="rgb(6,6,6)"/><stop offset="1" stop-color="rgb(4,4,4)"/></linearGradient></defs><rect x="0" y="150" width="300" height="90" fill="url(#vg2)"/></g></g></g></g><g clip-path="url(#clipd)"><g transform="translate(388.5,364.7) scale(0.81167,0.85667)" fill="none" stroke="#111" stroke-width="1"><line x1="0" y1="90" x2="300" y2="90" vector-effect="non-scaling-stroke" stroke-width="1" stroke="#111"/><line x1="0" y1="150" x2="300" y2="150" vector-effect="non-scaling-stroke" stroke-width="1" stroke="#111"/><rect x="88" y="60" width="124" height="30" vector-effect="non-scaling-stroke" stroke-width="1" stroke="#111"/><rect x="28" y="84.5" width="13.5" height="6" vector-effect="non-scaling-stroke" stroke-width="0.7" stroke="#111"/><rect x="258.5" y="84.5" width="13.5" height="6" vector-effect="non-scaling-stroke" stroke-width="0.7" stroke="#111"/></g></g><rect x="388.5" y="364.7" width="243.5" height="205.6" fill="none" stroke="#1a1a1a" stroke-width="1"/><line x1="388.5" y1="570.3" x2="388.5" y2="564.8" stroke="#111" stroke-width="1"/><line x1="396.62" y1="570.3" x2="396.62" y2="567.3" stroke="#111" stroke-width="1"/><line x1="404.73" y1="570.3" x2="404.73" y2="567.3" stroke="#111" stroke-width="1"/><line x1="412.85" y1="570.3" x2="412.85" y2="567.3" stroke="#111" stroke-width="1"/><line x1="420.97" y1="570.3" x2="420.97" y2="567.3" stroke="#111" stroke-width="1"/><line x1="429.08" y1="570.3" x2="429.08" y2="564.8" stroke="#111" stroke-width="1"/><line x1="437.2" y1="570.3" x2="437.2" y2="567.3" stroke="#111" stroke-width="1"/><line x1="445.32" y1="570.3" x2="445.32" y2="567.3" stroke="#111" stroke-width="1"/><line x1="453.43" y1="570.3" x2="453.43" y2="567.3" stroke="#111" stroke-width="1"/><line x1="461.55" y1="570.3" x2="461.55" y2="567.3" stroke="#111" stroke-width="1"/><line x1="469.67" y1="570.3" x2="469.67" y2="564.8" stroke="#111" stroke-width="1"/><line x1="477.78" y1="570.3" x2="477.78" y2="567.3" stroke="#111" stroke-width="1"/><line x1="485.9" y1="570.3" x2="485.9" y2="567.3" stroke="#111" stroke-width="1"/><line x1="494.02" y1="570.3" x2="494.02" y2="567.3" stroke="#111" stroke-width="1"/><line x1="502.13" y1="570.3" x2="502.13" y2="567.3" stroke="#111" stroke-width="1"/><line x1="510.25" y1="570.3" x2="510.25" y2="564.8" stroke="#111" stroke-width="1"/><line x1="518.37" y1="570.3" x2="518.37" y2="567.3" stroke="#111" stroke-width="1"/><line x1="526.48" y1="570.3" x2="526.48" y2="567.3" stroke="#111" stroke-width="1"/><line x1="534.6" y1="570.3" x2="534.6" y2="567.3" stroke="#111" stroke-width="1"/><line x1="542.72" y1="570.3" x2="542.72" y2="567.3" stroke="#111" stroke-width="1"/><line x1="550.83" y1="570.3" x2="550.83" y2="564.8" stroke="#111" stroke-width="1"/><line x1="558.95" y1="570.3" x2="558.95" y2="567.3" stroke="#111" stroke-width="1"/><line x1="567.07" y1="570.3" x2="567.07" y2="567.3" stroke="#111" stroke-width="1"/><line x1="575.18" y1="570.3" x2="575.18" y2="567.3" stroke="#111" stroke-width="1"/><line x1="583.3" y1="570.3" x2="583.3" y2="567.3" stroke="#111" stroke-width="1"/><line x1="591.42" y1="570.3" x2="591.42" y2="564.8" stroke="#111" stroke-width="1"/><line x1="599.53" y1="570.3" x2="599.53" y2="567.3" stroke="#111" stroke-width="1"/><line x1="607.65" y1="570.3" x2="607.65" y2="567.3" stroke="#111" stroke-width="1"/><line x1="615.77" y1="570.3" x2="615.77" y2="567.3" stroke="#111" stroke-width="1"/><line x1="623.88" y1="570.3" x2="623.88" y2="567.3" stroke="#111" stroke-width="1"/><line x1="632" y1="570.3" x2="632" y2="564.8" stroke="#111" stroke-width="1"/><line x1="388.5" y1="364.7" x2="391.5" y2="364.7" stroke="#111" stroke-width="1"/><line x1="388.5" y1="373.27" x2="391.5" y2="373.27" stroke="#111" stroke-width="1"/><line x1="388.5" y1="381.83" x2="391.5" y2="381.83" stroke="#111" stroke-width="1"/><line x1="388.5" y1="390.4" x2="394" y2="390.4" stroke="#111" stroke-width="1"/><line x1="388.5" y1="398.97" x2="391.5" y2="398.97" stroke="#111" stroke-width="1"/><line x1="388.5" y1="407.53" x2="391.5" y2="407.53" stroke="#111" stroke-width="1"/><line x1="388.5" y1="416.1" x2="391.5" y2="416.1" stroke="#111" stroke-width="1"/><line x1="388.5" y1="424.67" x2="394" y2="424.67" stroke="#111" stroke-width="1"/><line x1="388.5" y1="433.23" x2="391.5" y2="433.23" stroke="#111" stroke-width="1"/><line x1="388.5" y1="441.8" x2="391.5" y2="441.8" stroke="#111" stroke-width="1"/><line x1="388.5" y1="450.37" x2="391.5" y2="450.37" stroke="#111" stroke-width="1"/><line x1="388.5" y1="458.93" x2="394" y2="458.93" stroke="#111" stroke-width="1"/><line x1="388.5" y1="467.5" x2="391.5" y2="467.5" stroke="#111" stroke-width="1"/><line x1="388.5" y1="476.07" x2="391.5" y2="476.07" stroke="#111" stroke-width="1"/><line x1="388.5" y1="484.63" x2="391.5" y2="484.63" stroke="#111" stroke-width="1"/><line x1="388.5" y1="493.2" x2="394" y2="493.2" stroke="#111" stroke-width="1"/><line x1="388.5" y1="501.77" x2="391.5" y2="501.77" stroke="#111" stroke-width="1"/><line x1="388.5" y1="510.33" x2="391.5" y2="510.33" stroke="#111" stroke-width="1"/><line x1="388.5" y1="518.9" x2="391.5" y2="518.9" stroke="#111" stroke-width="1"/><line x1="388.5" y1="527.47" x2="394" y2="527.47" stroke="#111" stroke-width="1"/><line x1="388.5" y1="536.03" x2="391.5" y2="536.03" stroke="#111" stroke-width="1"/><line x1="388.5" y1="544.6" x2="391.5" y2="544.6" stroke="#111" stroke-width="1"/><line x1="388.5" y1="553.17" x2="391.5" y2="553.17" stroke="#111" stroke-width="1"/><line x1="388.5" y1="561.73" x2="394" y2="561.73" stroke="#111" stroke-width="1"/><line x1="388.5" y1="570.3" x2="391.5" y2="570.3" stroke="#111" stroke-width="1"/><path d="M385.8,361.5 L389,353.2 L392.2,361.5 Z" fill="#000"/><line x1="389" y1="364.7" x2="389" y2="360.7" stroke="#000" stroke-width="1"/><g clip-path="url(#clipe)"><g filter="url(#jet)"><rect x="51.6" y="675.8" width="243.2" height="206.7" fill="black"/><g transform="translate(51.6,675.8) scale(0.81067,0.86125)"><g><defs><linearGradient id="vg3" x1="0" y1="0" x2="1" y2="0"><stop offset="0" stop-color="rgb(128,128,128)"/><stop offset="0.1" stop-color="rgb(130,130,130)"/><stop offset="0.22" stop-color="rgb(140,140,140)"/><stop offset="0.3" stop-color="rgb(153,153,153)"/><stop offset="0.5" stop-color="rgb(158,158,158)"/><stop offset="0.7" stop-color="rgb(153,153,153)"/><stop offset="0.78" stop-color="rgb(140,140,140)"/><stop offset="0.9" stop-color="rgb(130,130,130)"/><stop offset="1" stop-color="rgb(128,128,128)"/></linearGradient></defs><rect x="0" y="0" width="300" height="151" fill="url(#vg3)"/><rect x="-10" y="40" width="320" height="60" fill="rgb(138,138,138)" filter="url(#b10)" opacity="0.6"/><clipPath id="ce1"><rect x="-10" y="-10" width="320" height="72"/></clipPath><g clip-path="url(#ce1)"><ellipse cx="150" cy="66" rx="76" ry="140" fill="rgb(156,156,156)" filter="url(#b5)"/><ellipse cx="150" cy="66" rx="60" ry="100" fill="rgb(168,168,168)" filter="url(#b5)"/><ellipse cx="150" cy="66" rx="56" ry="76" fill="rgb(189,189,189)" filter="url(#b5)"/><ellipse cx="150" cy="64" rx="49" ry="45" fill="rgb(217,217,217)" filter="url(#b5)"/><ellipse cx="150" cy="64" rx="33" ry="18" fill="rgb(242,242,242)" filter="url(#b4)"/></g><ellipse cx="82" cy="70" rx="8" ry="14" fill="rgb(153,153,153)" filter="url(#b4)"/><g transform="translate(300,0) scale(-1,1)"><ellipse cx="82" cy="70" rx="8" ry="14" fill="rgb(153,153,153)" filter="url(#b4)"/></g><clipPath id="ce2"><rect x="-10" y="90.5" width="320" height="60.5"/></clipPath><g clip-path="url(#ce2)"><rect x="50" y="80" width="200" height="80" fill="rgb(107,107,107)" filter="url(#b8)"/><ellipse cx="91" cy="104" rx="17" ry="24" fill="rgb(82,82,82)" filter="url(#b4)"/><g transform="translate(300,0) scale(-1,1)"><ellipse cx="91" cy="104" rx="17" ry="24" fill="rgb(82,82,82)" filter="url(#b4)"/></g><ellipse cx="91" cy="102" rx="9" ry="15" fill="rgb(41,41,41)" filter="url(#b3)"/><g transform="translate(300,0) scale(-1,1)"><ellipse cx="91" cy="102" rx="9" ry="15" fill="rgb(41,41,41)" filter="url(#b3)"/></g><path d="M116,88 L184,88 L162,150 L138,150 Z" fill="rgb(158,158,158)" filter="url(#b5)"/><path d="M125,88 L175,88 L168,122 L132,122 Z" fill="rgb(189,189,189)" filter="url(#b4)"/><ellipse cx="151" cy="91" rx="17" ry="10" fill="rgb(219,219,219)" filter="url(#b3)"/></g><clipPath id="ce3"><rect x="-10" y="89" width="320" height="62"/></clipPath><g clip-path="url(#ce3)"><ellipse cx="0" cy="150" rx="88" ry="58" fill="rgb(158,158,158)" filter="url(#b6)"/><ellipse cx="0" cy="150" rx="76" ry="46" fill="rgb(191,191,191)" filter="url(#b5)"/><ellipse cx="0" cy="150" rx="66" ry="36" fill="rgb(222,222,222)" filter="url(#b5)"/><ellipse cx="0" cy="150" rx="55" ry="30" fill="rgb(250,250,250)" filter="url(#b5)"/><g transform="translate(300,0) scale(-1,1)"><ellipse cx="0" cy="150" rx="88" ry="58" fill="rgb(158,158,158)" filter="url(#b6)"/><ellipse cx="0" cy="150" rx="76" ry="46" fill="rgb(191,191,191)" filter="url(#b5)"/><ellipse cx="0" cy="150" rx="66" ry="36" fill="rgb(222,222,222)" filter="url(#b5)"/><ellipse cx="0" cy="150" rx="55" ry="30" fill="rgb(250,250,250)" filter="url(#b5)"/></g></g><clipPath id="ce4r"><rect x="87.4" y="62" width="123.6" height="28.5"/></clipPath><g clip-path="url(#ce4r)"><rect x="85" y="58" width="130" height="35" fill="rgb(117,117,117)"/><ellipse cx="88" cy="64" rx="10" ry="8" fill="rgb(143,143,143)" filter="url(#b3)"/><g transform="translate(300,0) scale(-1,1)"><ellipse cx="88" cy="64" rx="10" ry="8" fill="rgb(143,143,143)" filter="url(#b3)"/></g><rect x="85" y="60" width="130" height="4" fill="rgb(178,178,178)" filter="url(#b1_5)"/><path d="M84,96 Q150,46 216,96 L194,96 Q150,76 106,96 Z" fill="rgb(76,76,76)" filter="url(#b2)"/><path d="M87,95 Q150,54 213,95 L199,95 Q150,70 101,95 Z" fill="rgb(33,33,33)" filter="url(#b1_5)"/><ellipse cx="150" cy="92" rx="26" ry="5" fill="rgb(191,191,191)" filter="url(#b1_5)"/></g><clipPath id="ce5"><rect x="-10" y="150.5" width="320" height="99.5"/></clipPath><g clip-path="url(#ce5)"><defs><linearGradient id="vg4" x1="0" y1="0" x2="0" y2="1"><stop offset="0" stop-color="rgb(133,133,133)"/><stop offset="0.08" stop-color="rgb(117,117,117)"/><stop offset="0.16" stop-color="rgb(97,97,97)"/><stop offset="0.27" stop-color="rgb(74,74,74)"/><stop offset="0.38" stop-color="rgb(51,51,51)"/><stop offset="0.55" stop-color="rgb(31,31,31)"/><stop offset="0.7" stop-color="rgb(18,18,18)"/><stop offset="1" stop-color="rgb(10,10,10)"/></linearGradient></defs><rect x="-10" y="150" width="320" height="95" fill="url(#vg4)"/><ellipse cx="0" cy="150" rx="115" ry="32" fill="rgb(97,97,97)" filter="url(#b3)"/><g transform="translate(300,0) scale(-1,1)"><ellipse cx="0" cy="150" rx="115" ry="32" fill="rgb(97,97,97)" filter="url(#b3)"/></g><ellipse cx="0" cy="150" rx="102" ry="27" fill="rgb(128,128,128)" filter="url(#b3)"/><g transform="translate(300,0) scale(-1,1)"><ellipse cx="0" cy="150" rx="102" ry="27" fill="rgb(128,128,128)" filter="url(#b3)"/></g><ellipse cx="0" cy="150" rx="92" ry="22" fill="rgb(158,158,158)" filter="url(#b3)"/><g transform="translate(300,0) scale(-1,1)"><ellipse cx="0" cy="150" rx="92" ry="22" fill="rgb(158,158,158)" filter="url(#b3)"/></g><ellipse cx="0" cy="150" rx="82" ry="18" fill="rgb(191,191,191)" filter="url(#b3)"/><g transform="translate(300,0) scale(-1,1)"><ellipse cx="0" cy="150" rx="82" ry="18" fill="rgb(191,191,191)" filter="url(#b3)"/></g><ellipse cx="0" cy="150" rx="70" ry="14" fill="rgb(222,222,222)" filter="url(#b3)"/><g transform="translate(300,0) scale(-1,1)"><ellipse cx="0" cy="150" rx="70" ry="14" fill="rgb(222,222,222)" filter="url(#b3)"/></g><ellipse cx="0" cy="150" rx="58" ry="9" fill="rgb(250,250,250)" filter="url(#b3)"/><g transform="translate(300,0) scale(-1,1)"><ellipse cx="0" cy="150" rx="58" ry="9" fill="rgb(250,250,250)" filter="url(#b3)"/></g></g></g></g></g></g><g clip-path="url(#clipe)"><g transform="translate(51.6,675.8) scale(0.81067,0.86125)" fill="none" stroke="#111" stroke-width="1"><line x1="0" y1="90.5" x2="300" y2="90.5" vector-effect="non-scaling-stroke" stroke-width="1" stroke="#111"/><line x1="0" y1="150.5" x2="300" y2="150.5" vector-effect="non-scaling-stroke" stroke-width="1" stroke="#111"/><rect x="87.4" y="62" width="123.6" height="28.5" vector-effect="non-scaling-stroke" stroke-width="1" stroke="#111"/><rect x="26.1" y="84.4" width="19.2" height="6.1" vector-effect="non-scaling-stroke" stroke-width="1" stroke="#111"/><rect x="254.7" y="84.4" width="19.2" height="6.1" vector-effect="non-scaling-stroke" stroke-width="1" stroke="#111"/></g></g><rect x="51.6" y="675.8" width="243.2" height="206.7" fill="none" stroke="#1a1a1a" stroke-width="1"/><line x1="51.6" y1="882.5" x2="51.6" y2="877" stroke="#111" stroke-width="1"/><line x1="59.71" y1="882.5" x2="59.71" y2="879.5" stroke="#111" stroke-width="1"/><line x1="67.81" y1="882.5" x2="67.81" y2="879.5" stroke="#111" stroke-width="1"/><line x1="75.92" y1="882.5" x2="75.92" y2="879.5" stroke="#111" stroke-width="1"/><line x1="84.03" y1="882.5" x2="84.03" y2="879.5" stroke="#111" stroke-width="1"/><line x1="92.13" y1="882.5" x2="92.13" y2="877" stroke="#111" stroke-width="1"/><line x1="100.24" y1="882.5" x2="100.24" y2="879.5" stroke="#111" stroke-width="1"/><line x1="108.35" y1="882.5" x2="108.35" y2="879.5" stroke="#111" stroke-width="1"/><line x1="116.45" y1="882.5" x2="116.45" y2="879.5" stroke="#111" stroke-width="1"/><line x1="124.56" y1="882.5" x2="124.56" y2="879.5" stroke="#111" stroke-width="1"/><line x1="132.67" y1="882.5" x2="132.67" y2="877" stroke="#111" stroke-width="1"/><line x1="140.77" y1="882.5" x2="140.77" y2="879.5" stroke="#111" stroke-width="1"/><line x1="148.88" y1="882.5" x2="148.88" y2="879.5" stroke="#111" stroke-width="1"/><line x1="156.99" y1="882.5" x2="156.99" y2="879.5" stroke="#111" stroke-width="1"/><line x1="165.09" y1="882.5" x2="165.09" y2="879.5" stroke="#111" stroke-width="1"/><line x1="173.2" y1="882.5" x2="173.2" y2="877" stroke="#111" stroke-width="1"/><line x1="181.31" y1="882.5" x2="181.31" y2="879.5" stroke="#111" stroke-width="1"/><line x1="189.41" y1="882.5" x2="189.41" y2="879.5" stroke="#111" stroke-width="1"/><line x1="197.52" y1="882.5" x2="197.52" y2="879.5" stroke="#111" stroke-width="1"/><line x1="205.63" y1="882.5" x2="205.63" y2="879.5" stroke="#111" stroke-width="1"/><line x1="213.73" y1="882.5" x2="213.73" y2="877" stroke="#111" stroke-width="1"/><line x1="221.84" y1="882.5" x2="221.84" y2="879.5" stroke="#111" stroke-width="1"/><line x1="229.95" y1="882.5" x2="229.95" y2="879.5" stroke="#111" stroke-width="1"/><line x1="238.05" y1="882.5" x2="238.05" y2="879.5" stroke="#111" stroke-width="1"/><line x1="246.16" y1="882.5" x2="246.16" y2="879.5" stroke="#111" stroke-width="1"/><line x1="254.27" y1="882.5" x2="254.27" y2="877" stroke="#111" stroke-width="1"/><line x1="262.37" y1="882.5" x2="262.37" y2="879.5" stroke="#111" stroke-width="1"/><line x1="270.48" y1="882.5" x2="270.48" y2="879.5" stroke="#111" stroke-width="1"/><line x1="278.59" y1="882.5" x2="278.59" y2="879.5" stroke="#111" stroke-width="1"/><line x1="286.69" y1="882.5" x2="286.69" y2="879.5" stroke="#111" stroke-width="1"/><line x1="294.8" y1="882.5" x2="294.8" y2="877" stroke="#111" stroke-width="1"/><line x1="51.6" y1="675.8" x2="54.6" y2="675.8" stroke="#111" stroke-width="1"/><line x1="51.6" y1="684.41" x2="54.6" y2="684.41" stroke="#111" stroke-width="1"/><line x1="51.6" y1="693.02" x2="54.6" y2="693.02" stroke="#111" stroke-width="1"/><line x1="51.6" y1="701.64" x2="57.1" y2="701.64" stroke="#111" stroke-width="1"/><line x1="51.6" y1="710.25" x2="54.6" y2="710.25" stroke="#111" stroke-width="1"/><line x1="51.6" y1="718.86" x2="54.6" y2="718.86" stroke="#111" stroke-width="1"/><line x1="51.6" y1="727.47" x2="54.6" y2="727.47" stroke="#111" stroke-width="1"/><line x1="51.6" y1="736.09" x2="57.1" y2="736.09" stroke="#111" stroke-width="1"/><line x1="51.6" y1="744.7" x2="54.6" y2="744.7" stroke="#111" stroke-width="1"/><line x1="51.6" y1="753.31" x2="54.6" y2="753.31" stroke="#111" stroke-width="1"/><line x1="51.6" y1="761.92" x2="54.6" y2="761.92" stroke="#111" stroke-width="1"/><line x1="51.6" y1="770.54" x2="57.1" y2="770.54" stroke="#111" stroke-width="1"/><line x1="51.6" y1="779.15" x2="54.6" y2="779.15" stroke="#111" stroke-width="1"/><line x1="51.6" y1="787.76" x2="54.6" y2="787.76" stroke="#111" stroke-width="1"/><line x1="51.6" y1="796.38" x2="54.6" y2="796.38" stroke="#111" stroke-width="1"/><line x1="51.6" y1="804.99" x2="57.1" y2="804.99" stroke="#111" stroke-width="1"/><line x1="51.6" y1="813.6" x2="54.6" y2="813.6" stroke="#111" stroke-width="1"/><line x1="51.6" y1="822.21" x2="54.6" y2="822.21" stroke="#111" stroke-width="1"/><line x1="51.6" y1="830.83" x2="54.6" y2="830.83" stroke="#111" stroke-width="1"/><line x1="51.6" y1="839.44" x2="57.1" y2="839.44" stroke="#111" stroke-width="1"/><line x1="51.6" y1="848.05" x2="54.6" y2="848.05" stroke="#111" stroke-width="1"/><line x1="51.6" y1="856.66" x2="54.6" y2="856.66" stroke="#111" stroke-width="1"/><line x1="51.6" y1="865.27" x2="54.6" y2="865.27" stroke="#111" stroke-width="1"/><line x1="51.6" y1="873.89" x2="57.1" y2="873.89" stroke="#111" stroke-width="1"/><line x1="51.6" y1="882.5" x2="54.6" y2="882.5" stroke="#111" stroke-width="1"/><path d="M48.9,672.6 L52.1,664.3 L55.3,672.6 Z" fill="#000"/><line x1="52.1" y1="675.8" x2="52.1" y2="671.8" stroke="#000" stroke-width="1"/><g clip-path="url(#clipf)"><g filter="url(#jet)"><rect x="389.1" y="677.5" width="243.4" height="205.5" fill="black"/><g transform="translate(389.1,677.5) scale(0.81133,0.85625)"><g><defs><linearGradient id="vg5" x1="0" y1="0" x2="1" y2="0"><stop offset="0" stop-color="rgb(128,128,128)"/><stop offset="0.12" stop-color="rgb(128,128,128)"/><stop offset="0.2" stop-color="rgb(138,138,138)"/><stop offset="0.26" stop-color="rgb(153,153,153)"/><stop offset="0.5" stop-color="rgb(158,158,158)"/><stop offset="0.74" stop-color="rgb(153,153,153)"/><stop offset="0.8" stop-color="rgb(138,138,138)"/><stop offset="0.88" stop-color="rgb(128,128,128)"/><stop offset="1" stop-color="rgb(128,128,128)"/></linearGradient></defs><rect x="0" y="0" width="300" height="151" fill="url(#vg5)"/><clipPath id="cf1"><rect x="-10" y="-10" width="320" height="71"/></clipPath><g clip-path="url(#cf1)"><ellipse cx="150" cy="70" rx="70" ry="150" fill="rgb(156,156,156)" filter="url(#b5)"/><ellipse cx="150" cy="70" rx="57" ry="120" fill="rgb(181,181,181)" filter="url(#b5)"/><ellipse cx="150" cy="66" rx="48" ry="54" fill="rgb(214,214,214)" filter="url(#b5)"/><ellipse cx="150" cy="64" rx="31" ry="28" fill="rgb(242,242,242)" filter="url(#b4)"/></g><ellipse cx="84" cy="70" rx="8" ry="14" fill="rgb(143,143,143)" filter="url(#b4)"/><g transform="translate(300,0) scale(-1,1)"><ellipse cx="84" cy="70" rx="8" ry="14" fill="rgb(143,143,143)" filter="url(#b4)"/></g><clipPath id="cf2"><rect x="-10" y="89.3" width="320" height="61.7"/></clipPath><g clip-path="url(#cf2)"><rect x="-10" y="89" width="320" height="62" fill="rgb(138,138,138)"/><ellipse cx="60" cy="100" rx="30" ry="14" fill="rgb(115,115,115)" filter="url(#b6)"/><g transform="translate(300,0) scale(-1,1)"><ellipse cx="60" cy="100" rx="30" ry="14" fill="rgb(115,115,115)" filter="url(#b6)"/></g><path d="M-10,106 Q40,110 82,132 L82,152 L-10,152 Z" fill="rgb(158,158,158)" filter="url(#b5)"/><path d="M310,106 Q260,110 218,132 L218,152 L310,152 Z" fill="rgb(158,158,158)" filter="url(#b5)"/><rect x="-10" y="128" width="320" height="30" fill="rgb(189,189,189)" filter="url(#b5)"/><rect x="-10" y="142" width="320" height="20" fill="rgb(214,214,214)" filter="url(#b4)"/><path d="M94,85 L206,85 L214,160 L86,160 Z" fill="rgb(189,189,189)" filter="url(#b4)"/><path d="M103,85 L197,85 L205,160 L95,160 Z" fill="rgb(219,219,219)" filter="url(#b4)"/><path d="M113,85 L187,85 L196,160 L104,160 Z" fill="rgb(250,250,250)" filter="url(#b4)"/></g><clipPath id="cf3r"><rect x="90.5" y="60.7" width="117" height="28.6"/></clipPath><g clip-path="url(#cf3r)"><defs><linearGradient id="vg6" x1="0" y1="0" x2="0" y2="1"><stop offset="0" stop-color="rgb(178,178,178)"/><stop offset="0.13" stop-color="rgb(153,153,153)"/><stop offset="0.25" stop-color="rgb(128,128,128)"/><stop offset="0.4" stop-color="rgb(102,102,102)"/><stop offset="0.5" stop-color="rgb(76,76,76)"/><stop offset="0.6" stop-color="rgb(61,61,61)"/><stop offset="0.7" stop-color="rgb(76,76,76)"/><stop offset="0.8" stop-color="rgb(107,107,107)"/><stop offset="0.85" stop-color="rgb(140,140,140)"/><stop offset="0.9" stop-color="rgb(184,184,184)"/><stop offset="0.95" stop-color="rgb(214,214,214)"/><stop offset="1" stop-color="rgb(230,230,230)"/></linearGradient></defs><rect x="90.5" y="60.7" width="117" height="28.6" fill="url(#vg6)"/><ellipse cx="150" cy="91" rx="50" ry="7" fill="rgb(230,230,230)" filter="url(#b2_5)"/></g><clipPath id="cf4"><rect x="-10" y="150.2" width="320" height="99.80000000000001"/></clipPath><g clip-path="url(#cf4)"><defs><linearGradient id="vg7" x1="0" y1="0" x2="0" y2="1"><stop offset="0" stop-color="rgb(214,214,214)"/><stop offset="0.1" stop-color="rgb(189,189,189)"/><stop offset="0.18" stop-color="rgb(158,158,158)"/><stop offset="0.25" stop-color="rgb(128,128,128)"/><stop offset="0.32" stop-color="rgb(102,102,102)"/><stop offset="0.42" stop-color="rgb(76,76,76)"/><stop offset="0.55" stop-color="rgb(51,51,51)"/><stop offset="0.72" stop-color="rgb(28,28,28)"/><stop offset="1" stop-color="rgb(13,13,13)"/></linearGradient></defs><rect x="-10" y="150" width="320" height="95" fill="url(#vg7)"/><ellipse cx="150" cy="150" rx="70" ry="14" fill="rgb(222,222,222)" filter="url(#b3)"/><ellipse cx="150" cy="150" rx="50" ry="8" fill="rgb(247,247,247)" filter="url(#b3)"/></g></g></g></g></g><g clip-path="url(#clipf)"><g transform="translate(389.1,677.5) scale(0.81133,0.85625)" fill="none" stroke="#111" stroke-width="1"><line x1="0" y1="89.3" x2="300" y2="89.3" vector-effect="non-scaling-stroke" stroke-width="1" stroke="#111"/><line x1="0" y1="150" x2="300" y2="150" vector-effect="non-scaling-stroke" stroke-width="1" stroke="#111"/><rect x="90.5" y="60.7" width="117" height="28.6" vector-effect="non-scaling-stroke" stroke-width="1" stroke="#111"/><rect x="27.5" y="83.2" width="18.3" height="6.1" vector-effect="non-scaling-stroke" stroke-width="1" stroke="#111"/><rect x="254.2" y="83.2" width="18.3" height="6.1" vector-effect="non-scaling-stroke" stroke-width="1" stroke="#111"/></g></g><rect x="389.1" y="677.5" width="243.4" height="205.5" fill="none" stroke="#1a1a1a" stroke-width="1"/><line x1="389.1" y1="883" x2="389.1" y2="877.5" stroke="#111" stroke-width="1"/><line x1="397.21" y1="883" x2="397.21" y2="880" stroke="#111" stroke-width="1"/><line x1="405.33" y1="883" x2="405.33" y2="880" stroke="#111" stroke-width="1"/><line x1="413.44" y1="883" x2="413.44" y2="880" stroke="#111" stroke-width="1"/><line x1="421.55" y1="883" x2="421.55" y2="880" stroke="#111" stroke-width="1"/><line x1="429.67" y1="883" x2="429.67" y2="877.5" stroke="#111" stroke-width="1"/><line x1="437.78" y1="883" x2="437.78" y2="880" stroke="#111" stroke-width="1"/><line x1="445.89" y1="883" x2="445.89" y2="880" stroke="#111" stroke-width="1"/><line x1="454.01" y1="883" x2="454.01" y2="880" stroke="#111" stroke-width="1"/><line x1="462.12" y1="883" x2="462.12" y2="880" stroke="#111" stroke-width="1"/><line x1="470.23" y1="883" x2="470.23" y2="877.5" stroke="#111" stroke-width="1"/><line x1="478.35" y1="883" x2="478.35" y2="880" stroke="#111" stroke-width="1"/><line x1="486.46" y1="883" x2="486.46" y2="880" stroke="#111" stroke-width="1"/><line x1="494.57" y1="883" x2="494.57" y2="880" stroke="#111" stroke-width="1"/><line x1="502.69" y1="883" x2="502.69" y2="880" stroke="#111" stroke-width="1"/><line x1="510.8" y1="883" x2="510.8" y2="877.5" stroke="#111" stroke-width="1"/><line x1="518.91" y1="883" x2="518.91" y2="880" stroke="#111" stroke-width="1"/><line x1="527.03" y1="883" x2="527.03" y2="880" stroke="#111" stroke-width="1"/><line x1="535.14" y1="883" x2="535.14" y2="880" stroke="#111" stroke-width="1"/><line x1="543.25" y1="883" x2="543.25" y2="880" stroke="#111" stroke-width="1"/><line x1="551.37" y1="883" x2="551.37" y2="877.5" stroke="#111" stroke-width="1"/><line x1="559.48" y1="883" x2="559.48" y2="880" stroke="#111" stroke-width="1"/><line x1="567.59" y1="883" x2="567.59" y2="880" stroke="#111" stroke-width="1"/><line x1="575.71" y1="883" x2="575.71" y2="880" stroke="#111" stroke-width="1"/><line x1="583.82" y1="883" x2="583.82" y2="880" stroke="#111" stroke-width="1"/><line x1="591.93" y1="883" x2="591.93" y2="877.5" stroke="#111" stroke-width="1"/><line x1="600.05" y1="883" x2="600.05" y2="880" stroke="#111" stroke-width="1"/><line x1="608.16" y1="883" x2="608.16" y2="880" stroke="#111" stroke-width="1"/><line x1="616.27" y1="883" x2="616.27" y2="880" stroke="#111" stroke-width="1"/><line x1="624.39" y1="883" x2="624.39" y2="880" stroke="#111" stroke-width="1"/><line x1="632.5" y1="883" x2="632.5" y2="877.5" stroke="#111" stroke-width="1"/><line x1="389.1" y1="677.5" x2="392.1" y2="677.5" stroke="#111" stroke-width="1"/><line x1="389.1" y1="686.06" x2="392.1" y2="686.06" stroke="#111" stroke-width="1"/><line x1="389.1" y1="694.62" x2="392.1" y2="694.62" stroke="#111" stroke-width="1"/><line x1="389.1" y1="703.19" x2="394.6" y2="703.19" stroke="#111" stroke-width="1"/><line x1="389.1" y1="711.75" x2="392.1" y2="711.75" stroke="#111" stroke-width="1"/><line x1="389.1" y1="720.31" x2="392.1" y2="720.31" stroke="#111" stroke-width="1"/><line x1="389.1" y1="728.88" x2="392.1" y2="728.88" stroke="#111" stroke-width="1"/><line x1="389.1" y1="737.44" x2="394.6" y2="737.44" stroke="#111" stroke-width="1"/><line x1="389.1" y1="746" x2="392.1" y2="746" stroke="#111" stroke-width="1"/><line x1="389.1" y1="754.56" x2="392.1" y2="754.56" stroke="#111" stroke-width="1"/><line x1="389.1" y1="763.12" x2="392.1" y2="763.12" stroke="#111" stroke-width="1"/><line x1="389.1" y1="771.69" x2="394.6" y2="771.69" stroke="#111" stroke-width="1"/><line x1="389.1" y1="780.25" x2="392.1" y2="780.25" stroke="#111" stroke-width="1"/><line x1="389.1" y1="788.81" x2="392.1" y2="788.81" stroke="#111" stroke-width="1"/><line x1="389.1" y1="797.38" x2="392.1" y2="797.38" stroke="#111" stroke-width="1"/><line x1="389.1" y1="805.94" x2="394.6" y2="805.94" stroke="#111" stroke-width="1"/><line x1="389.1" y1="814.5" x2="392.1" y2="814.5" stroke="#111" stroke-width="1"/><line x1="389.1" y1="823.06" x2="392.1" y2="823.06" stroke="#111" stroke-width="1"/><line x1="389.1" y1="831.62" x2="392.1" y2="831.62" stroke="#111" stroke-width="1"/><line x1="389.1" y1="840.19" x2="394.6" y2="840.19" stroke="#111" stroke-width="1"/><line x1="389.1" y1="848.75" x2="392.1" y2="848.75" stroke="#111" stroke-width="1"/><line x1="389.1" y1="857.31" x2="392.1" y2="857.31" stroke="#111" stroke-width="1"/><line x1="389.1" y1="865.88" x2="392.1" y2="865.88" stroke="#111" stroke-width="1"/><line x1="389.1" y1="874.44" x2="394.6" y2="874.44" stroke="#111" stroke-width="1"/><line x1="389.1" y1="883" x2="392.1" y2="883" stroke="#111" stroke-width="1"/><path d="M386.4,674.3 L389.6,666 L392.8,674.3 Z" fill="#000"/><line x1="389.6" y1="677.5" x2="389.6" y2="673.5" stroke="#000" stroke-width="1"/><text x="40.90" y="275.20" textLength="30.03" lengthAdjust="spacingAndGlyphs" style="font-family:'Liberation Serif', serif;font-weight:bold;font-size:14.5px">-150</text><text x="80.13" y="275.20" textLength="30.03" lengthAdjust="spacingAndGlyphs" style="font-family:'Liberation Serif', serif;font-weight:bold;font-size:14.5px">-100</text><text x="123.36" y="275.20" textLength="21.84" lengthAdjust="spacingAndGlyphs" style="font-family:'Liberation Serif', serif;font-weight:bold;font-size:14.5px">-50</text><text x="170.50" y="275.20" textLength="8.19" lengthAdjust="spacingAndGlyphs" style="font-family:'Liberation Serif', serif;font-weight:bold;font-size:14.5px">0</text><text x="205.12" y="275.20" textLength="16.39" lengthAdjust="spacingAndGlyphs" style="font-family:'Liberation Serif', serif;font-weight:bold;font-size:14.5px">50</text><text x="241.03" y="275.20" textLength="24.58" lengthAdjust="spacingAndGlyphs" style="font-family:'Liberation Serif', serif;font-weight:bold;font-size:14.5px">100</text><text x="281.17" y="275.20" textLength="24.58" lengthAdjust="spacingAndGlyphs" style="font-family:'Liberation Serif', serif;font-weight:bold;font-size:14.5px">150</text><text x="26.05" y="40.90" textLength="24.58" lengthAdjust="spacingAndGlyphs" style="font-family:'Liberation Serif', serif;font-weight:bold;font-size:14.5px">150</text><text x="26.05" y="75.98" textLength="24.58" lengthAdjust="spacingAndGlyphs" style="font-family:'Liberation Serif', serif;font-weight:bold;font-size:14.5px">100</text><text x="34.24" y="113.07" textLength="16.39" lengthAdjust="spacingAndGlyphs" style="font-family:'Liberation Serif', serif;font-weight:bold;font-size:14.5px">50</text><text x="42.43" y="150.15" textLength="8.19" lengthAdjust="spacingAndGlyphs" style="font-family:'Liberation Serif', serif;font-weight:bold;font-size:14.5px">0</text><text x="28.78" y="187.23" textLength="21.84" lengthAdjust="spacingAndGlyphs" style="font-family:'Liberation Serif', serif;font-weight:bold;font-size:14.5px">-50</text><text x="20.59" y="224.32" textLength="30.03" lengthAdjust="spacingAndGlyphs" style="font-family:'Liberation Serif', serif;font-weight:bold;font-size:14.5px">-100</text><text x="20.59" y="262.40" textLength="30.03" lengthAdjust="spacingAndGlyphs" style="font-family:'Liberation Serif', serif;font-weight:bold;font-size:14.5px">-150</text><text x="375.40" y="279.30" textLength="30.03" lengthAdjust="spacingAndGlyphs" style="font-family:'Liberation Serif', serif;font-weight:bold;font-size:14.5px">-150</text><text x="414.55" y="279.30" textLength="30.03" lengthAdjust="spacingAndGlyphs" style="font-family:'Liberation Serif', serif;font-weight:bold;font-size:14.5px">-100</text><text x="457.69" y="279.30" textLength="21.84" lengthAdjust="spacingAndGlyphs" style="font-family:'Liberation Serif', serif;font-weight:bold;font-size:14.5px">-50</text><text x="504.75" y="279.30" textLength="8.19" lengthAdjust="spacingAndGlyphs" style="font-family:'Liberation Serif', serif;font-weight:bold;font-size:14.5px">0</text><text x="539.29" y="279.30" textLength="16.38" lengthAdjust="spacingAndGlyphs" style="font-family:'Liberation Serif', serif;font-weight:bold;font-size:14.5px">50</text><text x="575.12" y="279.30" textLength="24.58" lengthAdjust="spacingAndGlyphs" style="font-family:'Liberation Serif', serif;font-weight:bold;font-size:14.5px">100</text><text x="615.17" y="279.30" textLength="24.58" lengthAdjust="spacingAndGlyphs" style="font-family:'Liberation Serif', serif;font-weight:bold;font-size:14.5px">150</text><text x="360.95" y="44.10" textLength="24.58" lengthAdjust="spacingAndGlyphs" style="font-family:'Liberation Serif', serif;font-weight:bold;font-size:14.5px">150</text><text x="360.95" y="79.57" textLength="24.58" lengthAdjust="spacingAndGlyphs" style="font-family:'Liberation Serif', serif;font-weight:bold;font-size:14.5px">100</text><text x="369.14" y="117.03" textLength="16.39" lengthAdjust="spacingAndGlyphs" style="font-family:'Liberation Serif', serif;font-weight:bold;font-size:14.5px">50</text><text x="377.33" y="154.50" textLength="8.19" lengthAdjust="spacingAndGlyphs" style="font-family:'Liberation Serif', serif;font-weight:bold;font-size:14.5px">0</text><text x="363.68" y="191.97" textLength="21.84" lengthAdjust="spacingAndGlyphs" style="font-family:'Liberation Serif', serif;font-weight:bold;font-size:14.5px">-50</text><text x="355.49" y="229.43" textLength="30.03" lengthAdjust="spacingAndGlyphs" style="font-family:'Liberation Serif', serif;font-weight:bold;font-size:14.5px">-100</text><text x="355.49" y="267.90" textLength="30.03" lengthAdjust="spacingAndGlyphs" style="font-family:'Liberation Serif', serif;font-weight:bold;font-size:14.5px">-150</text><text x="38.40" y="584.30" textLength="30.03" lengthAdjust="spacingAndGlyphs" style="font-family:'Liberation Serif', serif;font-weight:bold;font-size:14.5px">-150</text><text x="77.88" y="584.30" textLength="30.03" lengthAdjust="spacingAndGlyphs" style="font-family:'Liberation Serif', serif;font-weight:bold;font-size:14.5px">-100</text><text x="121.36" y="584.30" textLength="21.84" lengthAdjust="spacingAndGlyphs" style="font-family:'Liberation Serif', serif;font-weight:bold;font-size:14.5px">-50</text><text x="168.75" y="584.30" textLength="8.19" lengthAdjust="spacingAndGlyphs" style="font-family:'Liberation Serif', serif;font-weight:bold;font-size:14.5px">0</text><text x="203.62" y="584.30" textLength="16.39" lengthAdjust="spacingAndGlyphs" style="font-family:'Liberation Serif', serif;font-weight:bold;font-size:14.5px">50</text><text x="239.78" y="584.30" textLength="24.58" lengthAdjust="spacingAndGlyphs" style="font-family:'Liberation Serif', serif;font-weight:bold;font-size:14.5px">100</text><text x="280.17" y="584.30" textLength="24.58" lengthAdjust="spacingAndGlyphs" style="font-family:'Liberation Serif', serif;font-weight:bold;font-size:14.5px">150</text><text x="29.74" y="368.90" textLength="16.38" lengthAdjust="spacingAndGlyphs" style="font-family:'Liberation Serif', serif;font-weight:bold;font-size:14.5px">90</text><text x="29.74" y="401.20" textLength="16.38" lengthAdjust="spacingAndGlyphs" style="font-family:'Liberation Serif', serif;font-weight:bold;font-size:14.5px">50</text><text x="29.74" y="435.50" textLength="16.38" lengthAdjust="spacingAndGlyphs" style="font-family:'Liberation Serif', serif;font-weight:bold;font-size:14.5px">10</text><text x="24.28" y="469.80" textLength="21.84" lengthAdjust="spacingAndGlyphs" style="font-family:'Liberation Serif', serif;font-weight:bold;font-size:14.5px">-30</text><text x="24.28" y="504.10" textLength="21.84" lengthAdjust="spacingAndGlyphs" style="font-family:'Liberation Serif', serif;font-weight:bold;font-size:14.5px">-70</text><text x="16.09" y="538.40" textLength="30.03" lengthAdjust="spacingAndGlyphs" style="font-family:'Liberation Serif', serif;font-weight:bold;font-size:14.5px">-110</text><text x="376.40" y="589.00" textLength="30.03" lengthAdjust="spacingAndGlyphs" style="font-family:'Liberation Serif', serif;font-weight:bold;font-size:14.5px">-150</text><text x="415.88" y="589.00" textLength="30.03" lengthAdjust="spacingAndGlyphs" style="font-family:'Liberation Serif', serif;font-weight:bold;font-size:14.5px">-100</text><text x="459.36" y="589.00" textLength="21.84" lengthAdjust="spacingAndGlyphs" style="font-family:'Liberation Serif', serif;font-weight:bold;font-size:14.5px">-50</text><text x="506.75" y="589.00" textLength="8.19" lengthAdjust="spacingAndGlyphs" style="font-family:'Liberation Serif', serif;font-weight:bold;font-size:14.5px">0</text><text x="541.62" y="589.00" textLength="16.38" lengthAdjust="spacingAndGlyphs" style="font-family:'Liberation Serif', serif;font-weight:bold;font-size:14.5px">50</text><text x="577.78" y="589.00" textLength="24.58" lengthAdjust="spacingAndGlyphs" style="font-family:'Liberation Serif', serif;font-weight:bold;font-size:14.5px">100</text><text x="618.17" y="589.00" textLength="24.58" lengthAdjust="spacingAndGlyphs" style="font-family:'Liberation Serif', serif;font-weight:bold;font-size:14.5px">150</text><text x="368.84" y="371.60" textLength="16.39" lengthAdjust="spacingAndGlyphs" style="font-family:'Liberation Serif', serif;font-weight:bold;font-size:14.5px">90</text><text x="368.84" y="403.87" textLength="16.39" lengthAdjust="spacingAndGlyphs" style="font-family:'Liberation Serif', serif;font-weight:bold;font-size:14.5px">50</text><text x="368.84" y="438.13" textLength="16.39" lengthAdjust="spacingAndGlyphs" style="font-family:'Liberation Serif', serif;font-weight:bold;font-size:14.5px">10</text><text x="363.38" y="472.40" textLength="21.84" lengthAdjust="spacingAndGlyphs" style="font-family:'Liberation Serif', serif;font-weight:bold;font-size:14.5px">-30</text><text x="363.38" y="506.67" textLength="21.84" lengthAdjust="spacingAndGlyphs" style="font-family:'Liberation Serif', serif;font-weight:bold;font-size:14.5px">-70</text><text x="355.19" y="540.93" textLength="30.03" lengthAdjust="spacingAndGlyphs" style="font-family:'Liberation Serif', serif;font-weight:bold;font-size:14.5px">-110</text><text x="39.50" y="897.50" textLength="30.03" lengthAdjust="spacingAndGlyphs" style="font-family:'Liberation Serif', serif;font-weight:bold;font-size:14.5px">-150</text><text x="78.93" y="897.50" textLength="30.03" lengthAdjust="spacingAndGlyphs" style="font-family:'Liberation Serif', serif;font-weight:bold;font-size:14.5px">-100</text><text x="122.36" y="897.50" textLength="21.84" lengthAdjust="spacingAndGlyphs" style="font-family:'Liberation Serif', serif;font-weight:bold;font-size:14.5px">-50</text><text x="169.70" y="897.50" textLength="8.19" lengthAdjust="spacingAndGlyphs" style="font-family:'Liberation Serif', serif;font-weight:bold;font-size:14.5px">0</text><text x="204.52" y="897.50" textLength="16.39" lengthAdjust="spacingAndGlyphs" style="font-family:'Liberation Serif', serif;font-weight:bold;font-size:14.5px">50</text><text x="240.63" y="897.50" textLength="24.58" lengthAdjust="spacingAndGlyphs" style="font-family:'Liberation Serif', serif;font-weight:bold;font-size:14.5px">100</text><text x="280.97" y="897.50" textLength="24.58" lengthAdjust="spacingAndGlyphs" style="font-family:'Liberation Serif', serif;font-weight:bold;font-size:14.5px">150</text><text x="31.54" y="682.70" textLength="16.38" lengthAdjust="spacingAndGlyphs" style="font-family:'Liberation Serif', serif;font-weight:bold;font-size:14.5px">90</text><text x="31.54" y="715.15" textLength="16.39" lengthAdjust="spacingAndGlyphs" style="font-family:'Liberation Serif', serif;font-weight:bold;font-size:14.5px">50</text><text x="31.54" y="749.60" textLength="16.38" lengthAdjust="spacingAndGlyphs" style="font-family:'Liberation Serif', serif;font-weight:bold;font-size:14.5px">10</text><text x="26.08" y="784.05" textLength="21.84" lengthAdjust="spacingAndGlyphs" style="font-family:'Liberation Serif', serif;font-weight:bold;font-size:14.5px">-30</text><text x="26.08" y="818.50" textLength="21.84" lengthAdjust="spacingAndGlyphs" style="font-family:'Liberation Serif', serif;font-weight:bold;font-size:14.5px">-70</text><text x="17.89" y="852.95" textLength="30.03" lengthAdjust="spacingAndGlyphs" style="font-family:'Liberation Serif', serif;font-weight:bold;font-size:14.5px">-110</text><text x="377.00" y="899.50" textLength="30.03" lengthAdjust="spacingAndGlyphs" style="font-family:'Liberation Serif', serif;font-weight:bold;font-size:14.5px">-150</text><text x="416.46" y="899.50" textLength="30.03" lengthAdjust="spacingAndGlyphs" style="font-family:'Liberation Serif', serif;font-weight:bold;font-size:14.5px">-100</text><text x="459.92" y="899.50" textLength="21.84" lengthAdjust="spacingAndGlyphs" style="font-family:'Liberation Serif', serif;font-weight:bold;font-size:14.5px">-50</text><text x="507.30" y="899.50" textLength="8.19" lengthAdjust="spacingAndGlyphs" style="font-family:'Liberation Serif', serif;font-weight:bold;font-size:14.5px">0</text><text x="542.16" y="899.50" textLength="16.38" lengthAdjust="spacingAndGlyphs" style="font-family:'Liberation Serif', serif;font-weight:bold;font-size:14.5px">50</text><text x="578.30" y="899.50" textLength="24.58" lengthAdjust="spacingAndGlyphs" style="font-family:'Liberation Serif', serif;font-weight:bold;font-size:14.5px">100</text><text x="618.67" y="899.50" textLength="24.58" lengthAdjust="spacingAndGlyphs" style="font-family:'Liberation Serif', serif;font-weight:bold;font-size:14.5px">150</text><text x="369.24" y="684.40" textLength="16.39" lengthAdjust="spacingAndGlyphs" style="font-family:'Liberation Serif', serif;font-weight:bold;font-size:14.5px">90</text><text x="369.24" y="716.65" textLength="16.39" lengthAdjust="spacingAndGlyphs" style="font-family:'Liberation Serif', serif;font-weight:bold;font-size:14.5px">50</text><text x="369.24" y="750.90" textLength="16.39" lengthAdjust="spacingAndGlyphs" style="font-family:'Liberation Serif', serif;font-weight:bold;font-size:14.5px">10</text><text x="363.78" y="785.15" textLength="21.84" lengthAdjust="spacingAndGlyphs" style="font-family:'Liberation Serif', serif;font-weight:bold;font-size:14.5px">-30</text><text x="363.78" y="819.40" textLength="21.84" lengthAdjust="spacingAndGlyphs" style="font-family:'Liberation Serif', serif;font-weight:bold;font-size:14.5px">-70</text><text x="355.59" y="853.65" textLength="30.03" lengthAdjust="spacingAndGlyphs" style="font-family:'Liberation Serif', serif;font-weight:bold;font-size:14.5px">-110</text><text x="153.41" y="296.30" textLength="49.64" lengthAdjust="spacingAndGlyphs" style="font-family:'Liberation Serif', serif;font-weight:bold;font-size:18.5px">y(nm)</text><text x="488.21" y="300.30" textLength="48.42" lengthAdjust="spacingAndGlyphs" style="font-family:'Liberation Serif', serif;font-weight:bold;font-size:18.5px">y(nm)</text><text x="151.81" y="604.60" textLength="48.52" lengthAdjust="spacingAndGlyphs" style="font-family:'Liberation Serif', serif;font-weight:bold;font-size:18.5px">y(nm)</text><text x="490.61" y="607.80" textLength="48.52" lengthAdjust="spacingAndGlyphs" style="font-family:'Liberation Serif', serif;font-weight:bold;font-size:18.5px">y(nm)</text><text x="153.42" y="917.60" textLength="47.70" lengthAdjust="spacingAndGlyphs" style="font-family:'Liberation Serif', serif;font-weight:bold;font-size:18.5px">y(nm)</text><text x="491.81" y="919.60" textLength="48.52" lengthAdjust="spacingAndGlyphs" style="font-family:'Liberation Serif', serif;font-weight:bold;font-size:18.5px">y(nm)</text><text transform="translate(14.80,169.80) rotate(-90)" x="-0.07" y="0" textLength="47.59" lengthAdjust="spacingAndGlyphs" style="font-family:'Liberation Serif', serif;font-weight:bold;font-size:18.5px">x(nm)</text><text transform="translate(348.60,175.50) rotate(-90)" x="-0.07" y="0" textLength="47.59" lengthAdjust="spacingAndGlyphs" style="font-family:'Liberation Serif', serif;font-weight:bold;font-size:18.5px">x(nm)</text><text transform="translate(15.80,485.50) rotate(-90)" x="-0.36" y="0" textLength="46.48" lengthAdjust="spacingAndGlyphs" style="font-family:'Liberation Serif', serif;font-weight:bold;font-size:18.5px">z(nm)</text><text transform="translate(354.00,489.10) rotate(-90)" x="-0.37" y="0" textLength="46.89" lengthAdjust="spacingAndGlyphs" style="font-family:'Liberation Serif', serif;font-weight:bold;font-size:18.5px">z(nm)</text><text transform="translate(14.80,801.20) rotate(-90)" x="-0.37" y="0" textLength="47.20" lengthAdjust="spacingAndGlyphs" style="font-family:'Liberation Serif', serif;font-weight:bold;font-size:18.5px">z(nm)</text><text transform="translate(352.90,801.90) rotate(-90)" x="-0.36" y="0" textLength="46.48" lengthAdjust="spacingAndGlyphs" style="font-family:'Liberation Serif', serif;font-weight:bold;font-size:18.5px">z(nm)</text><text x="76.15" y="16.50" textLength="25.20" lengthAdjust="spacingAndGlyphs" style="font-family:'Liberation Serif', serif;font-weight:bold;font-size:20px">(a)</text><text x="108.57" y="15.90" textLength="5.25" lengthAdjust="spacingAndGlyphs" style="font-family:'Liberation Sans', sans-serif;font-weight:bold;font-size:19px">|</text><text x="117.17" y="15.90" textLength="9.27" lengthAdjust="spacingAndGlyphs" style="font-family:'Liberation Sans', sans-serif;font-weight:bold;font-size:19px">E</text><text x="128.37" y="15.90" textLength="6.34" lengthAdjust="spacingAndGlyphs" style="font-family:'Liberation Sans', sans-serif;font-weight:bold;font-size:19px">|</text><text x="141.51" y="15.90" textLength="17.83" lengthAdjust="spacingAndGlyphs" style="font-family:'Liberation Sans', sans-serif;font-weight:bold;font-size:19px">at</text><text x="168.72" y="15.90" textLength="52.84" lengthAdjust="spacingAndGlyphs" style="font-family:'Liberation Sans', sans-serif;font-weight:bold;font-size:19px">λ=472</text><text x="225.18" y="15.90" textLength="30.06" lengthAdjust="spacingAndGlyphs" style="font-family:'Liberation Sans', sans-serif;font-weight:bold;font-size:19px">nm</text><text x="419.07" y="16.60" textLength="25.86" lengthAdjust="spacingAndGlyphs" style="font-family:'Liberation Serif', serif;font-weight:bold;font-size:20px">(b)</text><text x="451.53" y="16.00" textLength="6.12" lengthAdjust="spacingAndGlyphs" style="font-family:'Liberation Sans', sans-serif;font-weight:bold;font-size:19px">|</text><text x="459.99" y="16.00" textLength="10.11" lengthAdjust="spacingAndGlyphs" style="font-family:'Liberation Sans', sans-serif;font-weight:bold;font-size:19px">E</text><text x="472.03" y="16.00" textLength="6.12" lengthAdjust="spacingAndGlyphs" style="font-family:'Liberation Sans', sans-serif;font-weight:bold;font-size:19px">|</text><text x="485.14" y="16.00" textLength="17.10" lengthAdjust="spacingAndGlyphs" style="font-family:'Liberation Sans', sans-serif;font-weight:bold;font-size:19px">at</text><text x="512.02" y="16.00" textLength="19.89" lengthAdjust="spacingAndGlyphs" style="font-family:'Liberation Sans', sans-serif;font-weight:bold;font-size:19px">λ=</text><text x="536.78" y="16.00" textLength="62.03" lengthAdjust="spacingAndGlyphs" style="font-family:'Liberation Sans', sans-serif;font-weight:bold;font-size:19px">655nm</text><text x="78.02" y="348.10" textLength="24.87" lengthAdjust="spacingAndGlyphs" style="font-family:'Liberation Serif', serif;font-weight:bold;font-size:20px">(c)</text><text x="109.43" y="347.50" textLength="6.12" lengthAdjust="spacingAndGlyphs" style="font-family:'Liberation Sans', sans-serif;font-weight:bold;font-size:19px">|</text><text x="117.87" y="347.50" textLength="9.27" lengthAdjust="spacingAndGlyphs" style="font-family:'Liberation Sans', sans-serif;font-weight:bold;font-size:19px">E</text><text x="129.93" y="347.50" textLength="6.12" lengthAdjust="spacingAndGlyphs" style="font-family:'Liberation Sans', sans-serif;font-weight:bold;font-size:19px">|</text><text x="142.34" y="347.50" textLength="17.10" lengthAdjust="spacingAndGlyphs" style="font-family:'Liberation Sans', sans-serif;font-weight:bold;font-size:19px">at</text><text x="169.12" y="347.50" textLength="52.53" lengthAdjust="spacingAndGlyphs" style="font-family:'Liberation Sans', sans-serif;font-weight:bold;font-size:19px">λ=472</text><text x="225.87" y="347.50" textLength="30.17" lengthAdjust="spacingAndGlyphs" style="font-family:'Liberation Sans', sans-serif;font-weight:bold;font-size:19px">nm</text><text x="419.74" y="348.70" textLength="26.61" lengthAdjust="spacingAndGlyphs" style="font-family:'Liberation Serif', serif;font-weight:bold;font-size:20px">(d)</text><text x="452.93" y="348.10" textLength="6.12" lengthAdjust="spacingAndGlyphs" style="font-family:'Liberation Sans', sans-serif;font-weight:bold;font-size:19px">|</text><text x="461.47" y="348.10" textLength="9.27" lengthAdjust="spacingAndGlyphs" style="font-family:'Liberation Sans', sans-serif;font-weight:bold;font-size:19px">E</text><text x="472.73" y="348.10" textLength="6.12" lengthAdjust="spacingAndGlyphs" style="font-family:'Liberation Sans', sans-serif;font-weight:bold;font-size:19px">|</text><text x="485.84" y="348.10" textLength="17.10" lengthAdjust="spacingAndGlyphs" style="font-family:'Liberation Sans', sans-serif;font-weight:bold;font-size:19px">at</text><text x="512.72" y="348.10" textLength="52.20" lengthAdjust="spacingAndGlyphs" style="font-family:'Liberation Sans', sans-serif;font-weight:bold;font-size:19px">λ=655</text><text x="569.47" y="348.10" textLength="30.17" lengthAdjust="spacingAndGlyphs" style="font-family:'Liberation Sans', sans-serif;font-weight:bold;font-size:19px">nm</text><text x="83.02" y="659.00" textLength="24.87" lengthAdjust="spacingAndGlyphs" style="font-family:'Liberation Serif', serif;font-weight:bold;font-size:20px">(e)</text><text x="114.43" y="658.40" textLength="6.12" lengthAdjust="spacingAndGlyphs" style="font-family:'Liberation Sans', sans-serif;font-weight:bold;font-size:19px">|</text><text x="121.80" y="658.40" textLength="14.00" lengthAdjust="spacingAndGlyphs" style="font-family:'Liberation Sans', sans-serif;font-weight:bold;font-size:19px">H</text><text x="137.73" y="658.40" textLength="6.12" lengthAdjust="spacingAndGlyphs" style="font-family:'Liberation Sans', sans-serif;font-weight:bold;font-size:19px">|</text><text x="150.84" y="658.40" textLength="17.10" lengthAdjust="spacingAndGlyphs" style="font-family:'Liberation Sans', sans-serif;font-weight:bold;font-size:19px">at</text><text x="177.72" y="658.40" textLength="52.43" lengthAdjust="spacingAndGlyphs" style="font-family:'Liberation Sans', sans-serif;font-weight:bold;font-size:19px">λ=472</text><text x="234.47" y="658.40" textLength="30.17" lengthAdjust="spacingAndGlyphs" style="font-family:'Liberation Sans', sans-serif;font-weight:bold;font-size:19px">nm</text><text x="420.41" y="660.60" textLength="22.48" lengthAdjust="spacingAndGlyphs" style="font-family:'Liberation Serif', serif;font-weight:bold;font-size:20px">(f)</text><text x="450.61" y="660.00" textLength="5.47" lengthAdjust="spacingAndGlyphs" style="font-family:'Liberation Sans', sans-serif;font-weight:bold;font-size:19px">|</text><text x="457.50" y="660.00" textLength="14.00" lengthAdjust="spacingAndGlyphs" style="font-family:'Liberation Sans', sans-serif;font-weight:bold;font-size:19px">H</text><text x="473.43" y="660.00" textLength="6.12" lengthAdjust="spacingAndGlyphs" style="font-family:'Liberation Sans', sans-serif;font-weight:bold;font-size:19px">|</text><text x="486.54" y="660.00" textLength="17.10" lengthAdjust="spacingAndGlyphs" style="font-family:'Liberation Sans', sans-serif;font-weight:bold;font-size:19px">at</text><text x="513.42" y="660.00" textLength="51.49" lengthAdjust="spacingAndGlyphs" style="font-family:'Liberation Sans', sans-serif;font-weight:bold;font-size:19px">λ=655</text><text x="569.47" y="660.00" textLength="30.17" lengthAdjust="spacingAndGlyphs" style="font-family:'Liberation Sans', sans-serif;font-weight:bold;font-size:19px">nm</text><rect x="646.2" y="37.9" width="14.6" height="224.1" fill="url(#cbar)" stroke="#222" stroke-width="0.8"/><line x1="660.8" y1="61.09" x2="658.8" y2="61.09" stroke="#333" stroke-width="0.8"/><line x1="660.8" y1="90.59" x2="658.8" y2="90.59" stroke="#333" stroke-width="0.8"/><line x1="660.8" y1="120.08" x2="658.8" y2="120.08" stroke="#333" stroke-width="0.8"/><line x1="660.8" y1="149.57" x2="658.8" y2="149.57" stroke="#333" stroke-width="0.8"/><line x1="660.8" y1="179.06" x2="658.8" y2="179.06" stroke="#333" stroke-width="0.8"/><line x1="660.8" y1="208.55" x2="658.8" y2="208.55" stroke="#333" stroke-width="0.8"/><line x1="660.8" y1="238.04" x2="658.8" y2="238.04" stroke="#333" stroke-width="0.8"/><text x="667.51" y="49.20" textLength="32.78" lengthAdjust="spacingAndGlyphs" style="font-family:'Liberation Serif', serif;font-weight:bold;font-size:15.5px">Max</text><text x="667.72" y="261.00" textLength="29.43" lengthAdjust="spacingAndGlyphs" style="font-family:'Liberation Serif', serif;font-weight:bold;font-size:15.5px">Min</text><rect x="646.2" y="365" width="14.6" height="202" fill="url(#cbar)" stroke="#222" stroke-width="0.8"/><line x1="660.8" y1="385.91" x2="658.8" y2="385.91" stroke="#333" stroke-width="0.8"/><line x1="660.8" y1="412.49" x2="658.8" y2="412.49" stroke="#333" stroke-width="0.8"/><line x1="660.8" y1="439.07" x2="658.8" y2="439.07" stroke="#333" stroke-width="0.8"/><line x1="660.8" y1="465.66" x2="658.8" y2="465.66" stroke="#333" stroke-width="0.8"/><line x1="660.8" y1="492.24" x2="658.8" y2="492.24" stroke="#333" stroke-width="0.8"/><line x1="660.8" y1="518.82" x2="658.8" y2="518.82" stroke="#333" stroke-width="0.8"/><line x1="660.8" y1="545.41" x2="658.8" y2="545.41" stroke="#333" stroke-width="0.8"/><text x="672.31" y="376.80" textLength="32.98" lengthAdjust="spacingAndGlyphs" style="font-family:'Liberation Serif', serif;font-weight:bold;font-size:15.5px">Max</text><text x="671.61" y="566.00" textLength="29.74" lengthAdjust="spacingAndGlyphs" style="font-family:'Liberation Serif', serif;font-weight:bold;font-size:15.5px">Min</text><rect x="646.2" y="677.7" width="14.6" height="201.8" fill="url(#cbar)" stroke="#222" stroke-width="0.8"/><line x1="660.8" y1="698.59" x2="658.8" y2="698.59" stroke="#333" stroke-width="0.8"/><line x1="660.8" y1="725.14" x2="658.8" y2="725.14" stroke="#333" stroke-width="0.8"/><line x1="660.8" y1="751.7" x2="658.8" y2="751.7" stroke="#333" stroke-width="0.8"/><line x1="660.8" y1="778.26" x2="658.8" y2="778.26" stroke="#333" stroke-width="0.8"/><line x1="660.8" y1="804.81" x2="658.8" y2="804.81" stroke="#333" stroke-width="0.8"/><line x1="660.8" y1="831.37" x2="658.8" y2="831.37" stroke="#333" stroke-width="0.8"/><line x1="660.8" y1="857.93" x2="658.8" y2="857.93" stroke="#333" stroke-width="0.8"/><text x="672.01" y="689.10" textLength="32.78" lengthAdjust="spacingAndGlyphs" style="font-family:'Liberation Serif', serif;font-weight:bold;font-size:15.5px">Max</text><text x="672.71" y="878.50" textLength="30.15" lengthAdjust="spacingAndGlyphs" style="font-family:'Liberation Serif', serif;font-weight:bold;font-size:15.5px">Min</text></svg></body></html>
